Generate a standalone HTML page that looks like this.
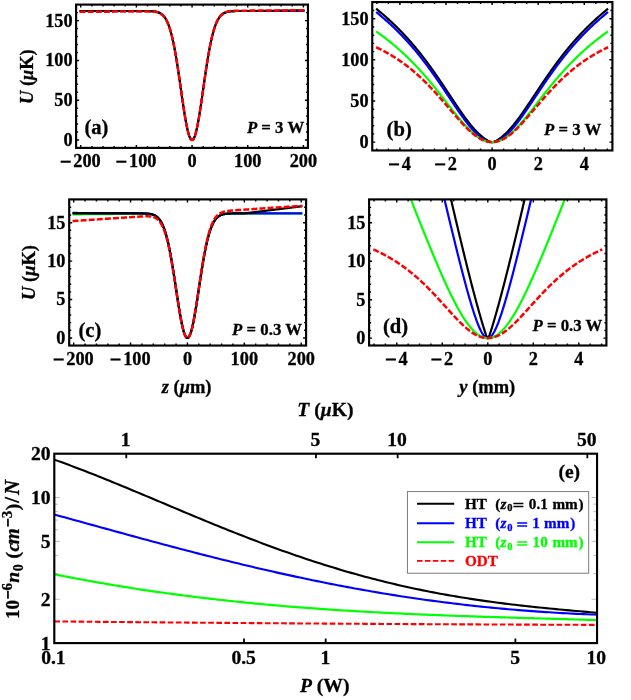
<!DOCTYPE html>
<html><head><meta charset="utf-8"><title>fig</title>
<style>html,body{margin:0;padding:0;background:#fff;}svg{display:block;}text{font-family:'Liberation Serif', serif;font-weight:bold;fill:#000;stroke:#000;stroke-width:0.3px;}</style>
</head><body>
<svg width="631" height="700" viewBox="0 0 631 700" style="will-change:transform">
<rect width="631" height="700" fill="#fff"/>
<clipPath id="ca"><rect x="76.10" y="4.60" width="231.85" height="143.30"/></clipPath>
<g clip-path="url(#ca)" fill="none" stroke-linejoin="round">
<path d="M79.59,11.05 L80.14,11.05 L80.70,11.05 L81.26,11.05 L81.81,11.05 L82.37,11.05 L82.93,11.05 L83.48,11.05 L84.04,11.05 L84.60,11.05 L85.15,11.05 L85.71,11.05 L86.27,11.05 L86.82,11.05 L87.38,11.05 L87.94,11.05 L88.49,11.05 L89.05,11.05 L89.61,11.05 L90.16,11.05 L90.72,11.05 L91.28,11.05 L91.84,11.05 L92.39,11.05 L92.95,11.05 L93.51,11.05 L94.06,11.05 L94.62,11.05 L95.18,11.05 L95.73,11.05 L96.29,11.05 L96.85,11.05 L97.40,11.05 L97.96,11.05 L98.52,11.05 L99.07,11.05 L99.63,11.05 L100.19,11.05 L100.74,11.05 L101.30,11.05 L101.86,11.05 L102.41,11.05 L102.97,11.05 L103.53,11.05 L104.08,11.05 L104.64,11.05 L105.20,11.05 L105.75,11.05 L106.31,11.05 L106.87,11.05 L107.42,11.05 L107.98,11.05 L108.54,11.05 L109.09,11.05 L109.65,11.05 L110.21,11.05 L110.76,11.05 L111.32,11.05 L111.88,11.05 L112.43,11.05 L112.99,11.05 L113.55,11.05 L114.11,11.05 L114.66,11.05 L115.22,11.05 L115.78,11.05 L116.33,11.05 L116.89,11.05 L117.45,11.05 L118.00,11.05 L118.56,11.05 L119.12,11.05 L119.67,11.05 L120.23,11.05 L120.79,11.05 L121.34,11.05 L121.90,11.05 L122.46,11.05 L123.01,11.05 L123.57,11.05 L124.13,11.05 L124.68,11.05 L125.24,11.05 L125.80,11.05 L126.35,11.05 L126.91,11.05 L127.47,11.05 L128.02,11.05 L128.58,11.05 L129.14,11.05 L129.69,11.05 L130.25,11.05 L130.81,11.05 L131.36,11.05 L131.92,11.05 L132.48,11.05 L133.03,11.05 L133.59,11.05 L134.15,11.05 L134.70,11.05 L135.26,11.05 L135.82,11.05 L136.38,11.05 L136.93,11.05 L137.49,11.05 L138.05,11.05 L138.60,11.05 L139.16,11.05 L139.72,11.05 L140.27,11.05 L140.83,11.05 L141.39,11.05 L141.94,11.05 L142.50,11.05 L143.06,11.06 L143.61,11.06 L144.17,11.06 L144.73,11.06 L145.28,11.07 L145.84,11.07 L146.40,11.08 L146.95,11.08 L147.51,11.09 L148.07,11.10 L148.62,11.11 L149.18,11.13 L149.74,11.14 L150.29,11.16 L150.85,11.19 L151.41,11.21 L151.96,11.25 L152.52,11.28 L153.08,11.33 L153.63,11.38 L154.19,11.45 L154.75,11.52 L155.30,11.60 L155.86,11.70 L156.42,11.82 L156.97,11.95 L157.53,12.10 L158.09,12.28 L158.65,12.48 L159.20,12.71 L159.76,12.97 L160.32,13.27 L160.87,13.61 L161.43,13.99 L161.99,14.42 L162.54,14.90 L163.10,15.44 L163.66,16.04 L164.21,16.71 L164.77,17.46 L165.33,18.29 L165.88,19.20 L166.44,20.20 L167.00,21.31 L167.55,22.51 L168.11,23.83 L168.67,25.27 L169.22,26.82 L169.78,28.50 L170.34,30.31 L170.89,32.26 L171.45,34.34 L172.01,36.57 L172.56,38.94 L173.12,41.45 L173.68,44.10 L174.23,46.90 L174.79,49.84 L175.35,52.91 L175.90,56.12 L176.46,59.45 L177.02,62.89 L177.57,66.44 L178.13,70.09 L178.69,73.82 L179.24,77.61 L179.80,81.47 L180.36,85.35 L180.92,89.26 L181.47,93.17 L182.03,97.06 L182.59,100.90 L183.14,104.69 L183.70,108.39 L184.26,111.98 L184.81,115.44 L185.37,118.76 L185.93,121.90 L186.48,124.85 L187.04,127.58 L187.60,130.09 L188.15,132.34 L188.71,134.33 L189.27,136.03 L189.82,137.45 L190.38,138.56 L190.94,139.36 L191.49,139.84 L192.05,140.00 L192.61,139.84 L193.16,139.36 L193.72,138.56 L194.28,137.45 L194.83,136.03 L195.39,134.33 L195.95,132.34 L196.50,130.09 L197.06,127.58 L197.62,124.85 L198.17,121.90 L198.73,118.76 L199.29,115.44 L199.84,111.98 L200.40,108.39 L200.96,104.69 L201.51,100.90 L202.07,97.06 L202.63,93.17 L203.19,89.26 L203.74,85.35 L204.30,81.47 L204.86,77.61 L205.41,73.82 L205.97,70.09 L206.53,66.44 L207.08,62.89 L207.64,59.45 L208.20,56.12 L208.75,52.91 L209.31,49.84 L209.87,46.90 L210.42,44.10 L210.98,41.45 L211.54,38.94 L212.09,36.57 L212.65,34.34 L213.21,32.26 L213.76,30.31 L214.32,28.50 L214.88,26.82 L215.43,25.27 L215.99,23.83 L216.55,22.51 L217.10,21.31 L217.66,20.20 L218.22,19.20 L218.77,18.29 L219.33,17.46 L219.89,16.71 L220.44,16.04 L221.00,15.44 L221.56,14.90 L222.11,14.42 L222.67,13.99 L223.23,13.61 L223.78,13.27 L224.34,12.97 L224.90,12.71 L225.46,12.48 L226.01,12.28 L226.57,12.10 L227.13,11.95 L227.68,11.82 L228.24,11.70 L228.80,11.60 L229.35,11.52 L229.91,11.45 L230.47,11.38 L231.02,11.33 L231.58,11.28 L232.14,11.25 L232.69,11.21 L233.25,11.19 L233.81,11.16 L234.36,11.14 L234.92,11.13 L235.48,11.11 L236.03,11.10 L236.59,11.09 L237.15,11.08 L237.70,11.08 L238.26,11.07 L238.82,11.07 L239.37,11.06 L239.93,11.06 L240.49,11.06 L241.04,11.06 L241.60,11.05 L242.16,11.05 L242.71,11.05 L243.27,11.05 L243.83,11.05 L244.38,11.05 L244.94,11.05 L245.50,11.05 L246.05,11.05 L246.61,11.05 L247.17,11.05 L247.73,11.05 L248.28,11.05 L248.84,11.05 L249.40,11.05 L249.95,11.05 L250.51,11.05 L251.07,11.05 L251.62,11.05 L252.18,11.05 L252.74,11.05 L253.29,11.05 L253.85,11.05 L254.41,11.05 L254.96,11.05 L255.52,11.05 L256.08,11.05 L256.63,11.05 L257.19,11.05 L257.75,11.05 L258.30,11.05 L258.86,11.05 L259.42,11.05 L259.97,11.05 L260.53,11.05 L261.09,11.05 L261.64,11.05 L262.20,11.05 L262.76,11.05 L263.31,11.05 L263.87,11.05 L264.43,11.05 L264.98,11.05 L265.54,11.05 L266.10,11.05 L266.65,11.05 L267.21,11.05 L267.77,11.05 L268.32,11.05 L268.88,11.05 L269.44,11.05 L270.00,11.05 L270.55,11.05 L271.11,11.05 L271.67,11.05 L272.22,11.05 L272.78,11.05 L273.34,11.05 L273.89,11.05 L274.45,11.05 L275.01,11.05 L275.56,11.05 L276.12,11.05 L276.68,11.05 L277.23,11.05 L277.79,11.05 L278.35,11.05 L278.90,11.05 L279.46,11.05 L280.02,11.05 L280.57,11.05 L281.13,11.05 L281.69,11.05 L282.24,11.05 L282.80,11.05 L283.36,11.05 L283.91,11.05 L284.47,11.05 L285.03,11.05 L285.58,11.05 L286.14,11.05 L286.70,11.05 L287.25,11.05 L287.81,11.05 L288.37,11.05 L288.92,11.05 L289.48,11.05 L290.04,11.05 L290.59,11.05 L291.15,11.05 L291.71,11.05 L292.26,11.05 L292.82,11.05 L293.38,11.05 L293.94,11.05 L294.49,11.05 L295.05,11.05 L295.61,11.05 L296.16,11.05 L296.72,11.05 L297.28,11.05 L297.83,11.05 L298.39,11.05 L298.95,11.05 L299.50,11.05 L300.06,11.05 L300.62,11.05 L301.17,11.05 L301.73,11.05 L302.29,11.05 L302.84,11.05 L303.40,11.05 L303.96,11.05 L304.51,11.05" stroke="#00ff00" stroke-width="2"/>
<path d="M79.59,11.05 L80.14,11.05 L80.70,11.05 L81.26,11.05 L81.81,11.05 L82.37,11.05 L82.93,11.05 L83.48,11.05 L84.04,11.05 L84.60,11.05 L85.15,11.05 L85.71,11.05 L86.27,11.05 L86.82,11.05 L87.38,11.05 L87.94,11.05 L88.49,11.05 L89.05,11.05 L89.61,11.05 L90.16,11.05 L90.72,11.05 L91.28,11.05 L91.84,11.05 L92.39,11.05 L92.95,11.05 L93.51,11.05 L94.06,11.05 L94.62,11.05 L95.18,11.05 L95.73,11.05 L96.29,11.05 L96.85,11.05 L97.40,11.05 L97.96,11.05 L98.52,11.05 L99.07,11.05 L99.63,11.05 L100.19,11.05 L100.74,11.05 L101.30,11.05 L101.86,11.05 L102.41,11.05 L102.97,11.05 L103.53,11.05 L104.08,11.05 L104.64,11.05 L105.20,11.05 L105.75,11.05 L106.31,11.05 L106.87,11.05 L107.42,11.05 L107.98,11.05 L108.54,11.05 L109.09,11.05 L109.65,11.05 L110.21,11.05 L110.76,11.05 L111.32,11.05 L111.88,11.05 L112.43,11.05 L112.99,11.05 L113.55,11.05 L114.11,11.05 L114.66,11.05 L115.22,11.05 L115.78,11.05 L116.33,11.05 L116.89,11.05 L117.45,11.05 L118.00,11.05 L118.56,11.05 L119.12,11.05 L119.67,11.05 L120.23,11.05 L120.79,11.05 L121.34,11.05 L121.90,11.05 L122.46,11.05 L123.01,11.05 L123.57,11.05 L124.13,11.05 L124.68,11.05 L125.24,11.05 L125.80,11.05 L126.35,11.05 L126.91,11.05 L127.47,11.05 L128.02,11.05 L128.58,11.05 L129.14,11.05 L129.69,11.05 L130.25,11.05 L130.81,11.05 L131.36,11.05 L131.92,11.05 L132.48,11.05 L133.03,11.05 L133.59,11.05 L134.15,11.05 L134.70,11.05 L135.26,11.05 L135.82,11.05 L136.38,11.05 L136.93,11.05 L137.49,11.05 L138.05,11.05 L138.60,11.05 L139.16,11.05 L139.72,11.05 L140.27,11.05 L140.83,11.05 L141.39,11.05 L141.94,11.05 L142.50,11.05 L143.06,11.06 L143.61,11.06 L144.17,11.06 L144.73,11.06 L145.28,11.07 L145.84,11.07 L146.40,11.08 L146.95,11.08 L147.51,11.09 L148.07,11.10 L148.62,11.11 L149.18,11.13 L149.74,11.14 L150.29,11.16 L150.85,11.19 L151.41,11.21 L151.96,11.25 L152.52,11.28 L153.08,11.33 L153.63,11.38 L154.19,11.45 L154.75,11.52 L155.30,11.60 L155.86,11.70 L156.42,11.82 L156.97,11.95 L157.53,12.10 L158.09,12.28 L158.65,12.48 L159.20,12.71 L159.76,12.97 L160.32,13.27 L160.87,13.61 L161.43,13.99 L161.99,14.42 L162.54,14.90 L163.10,15.44 L163.66,16.04 L164.21,16.71 L164.77,17.46 L165.33,18.29 L165.88,19.20 L166.44,20.20 L167.00,21.31 L167.55,22.51 L168.11,23.83 L168.67,25.27 L169.22,26.82 L169.78,28.50 L170.34,30.31 L170.89,32.26 L171.45,34.34 L172.01,36.57 L172.56,38.94 L173.12,41.45 L173.68,44.10 L174.23,46.90 L174.79,49.84 L175.35,52.91 L175.90,56.12 L176.46,59.45 L177.02,62.89 L177.57,66.44 L178.13,70.09 L178.69,73.82 L179.24,77.61 L179.80,81.47 L180.36,85.35 L180.92,89.26 L181.47,93.17 L182.03,97.06 L182.59,100.90 L183.14,104.69 L183.70,108.39 L184.26,111.98 L184.81,115.44 L185.37,118.76 L185.93,121.90 L186.48,124.85 L187.04,127.58 L187.60,130.09 L188.15,132.34 L188.71,134.33 L189.27,136.03 L189.82,137.45 L190.38,138.56 L190.94,139.36 L191.49,139.84 L192.05,140.00 L192.61,139.84 L193.16,139.36 L193.72,138.56 L194.28,137.45 L194.83,136.03 L195.39,134.33 L195.95,132.34 L196.50,130.09 L197.06,127.58 L197.62,124.85 L198.17,121.90 L198.73,118.76 L199.29,115.44 L199.84,111.98 L200.40,108.39 L200.96,104.69 L201.51,100.90 L202.07,97.06 L202.63,93.17 L203.19,89.26 L203.74,85.35 L204.30,81.47 L204.86,77.61 L205.41,73.82 L205.97,70.09 L206.53,66.44 L207.08,62.89 L207.64,59.45 L208.20,56.12 L208.75,52.91 L209.31,49.84 L209.87,46.90 L210.42,44.10 L210.98,41.45 L211.54,38.94 L212.09,36.57 L212.65,34.34 L213.21,32.26 L213.76,30.31 L214.32,28.50 L214.88,26.82 L215.43,25.27 L215.99,23.83 L216.55,22.51 L217.10,21.31 L217.66,20.20 L218.22,19.20 L218.77,18.29 L219.33,17.46 L219.89,16.71 L220.44,16.04 L221.00,15.44 L221.56,14.90 L222.11,14.42 L222.67,13.99 L223.23,13.61 L223.78,13.27 L224.34,12.97 L224.90,12.71 L225.46,12.48 L226.01,12.28 L226.57,12.10 L227.13,11.95 L227.68,11.82 L228.24,11.70 L228.80,11.60 L229.35,11.52 L229.91,11.45 L230.47,11.38 L231.02,11.33 L231.58,11.28 L232.14,11.25 L232.69,11.21 L233.25,11.19 L233.81,11.16 L234.36,11.14 L234.92,11.13 L235.48,11.11 L236.03,11.10 L236.59,11.09 L237.15,11.08 L237.70,11.08 L238.26,11.07 L238.82,11.07 L239.37,11.06 L239.93,11.06 L240.49,11.06 L241.04,11.06 L241.60,11.05 L242.16,11.05 L242.71,11.05 L243.27,11.05 L243.83,11.05 L244.38,11.05 L244.94,11.05 L245.50,11.05 L246.05,11.05 L246.61,11.05 L247.17,11.05 L247.73,11.05 L248.28,11.05 L248.84,11.05 L249.40,11.05 L249.95,11.05 L250.51,11.05 L251.07,11.05 L251.62,11.05 L252.18,11.05 L252.74,11.05 L253.29,11.05 L253.85,11.05 L254.41,11.05 L254.96,11.05 L255.52,11.05 L256.08,11.05 L256.63,11.05 L257.19,11.05 L257.75,11.05 L258.30,11.05 L258.86,11.05 L259.42,11.05 L259.97,11.05 L260.53,11.05 L261.09,11.05 L261.64,11.05 L262.20,11.05 L262.76,11.05 L263.31,11.05 L263.87,11.05 L264.43,11.05 L264.98,11.05 L265.54,11.05 L266.10,11.05 L266.65,11.05 L267.21,11.05 L267.77,11.05 L268.32,11.05 L268.88,11.05 L269.44,11.05 L270.00,11.05 L270.55,11.05 L271.11,11.05 L271.67,11.05 L272.22,11.05 L272.78,11.05 L273.34,11.05 L273.89,11.05 L274.45,11.05 L275.01,11.05 L275.56,11.05 L276.12,11.05 L276.68,11.05 L277.23,11.05 L277.79,11.05 L278.35,11.05 L278.90,11.05 L279.46,11.05 L280.02,11.05 L280.57,11.05 L281.13,11.05 L281.69,11.05 L282.24,11.05 L282.80,11.05 L283.36,11.05 L283.91,11.05 L284.47,11.05 L285.03,11.05 L285.58,11.05 L286.14,11.05 L286.70,11.05 L287.25,11.05 L287.81,11.05 L288.37,11.05 L288.92,11.05 L289.48,11.05 L290.04,11.05 L290.59,11.05 L291.15,11.05 L291.71,11.05 L292.26,11.05 L292.82,11.05 L293.38,11.05 L293.94,11.05 L294.49,11.05 L295.05,11.05 L295.61,11.05 L296.16,11.05 L296.72,11.05 L297.28,11.05 L297.83,11.05 L298.39,11.05 L298.95,11.05 L299.50,11.05 L300.06,11.05 L300.62,11.05 L301.17,11.05 L301.73,11.05 L302.29,11.05 L302.84,11.05 L303.40,11.05 L303.96,11.05 L304.51,11.05" stroke="#0000ff" stroke-width="2"/>
<path d="M79.59,11.05 L80.14,11.05 L80.70,11.05 L81.26,11.05 L81.81,11.05 L82.37,11.05 L82.93,11.05 L83.48,11.05 L84.04,11.05 L84.60,11.05 L85.15,11.05 L85.71,11.05 L86.27,11.05 L86.82,11.05 L87.38,11.05 L87.94,11.05 L88.49,11.05 L89.05,11.05 L89.61,11.05 L90.16,11.05 L90.72,11.05 L91.28,11.05 L91.84,11.05 L92.39,11.05 L92.95,11.05 L93.51,11.05 L94.06,11.05 L94.62,11.05 L95.18,11.05 L95.73,11.05 L96.29,11.05 L96.85,11.05 L97.40,11.05 L97.96,11.05 L98.52,11.05 L99.07,11.05 L99.63,11.05 L100.19,11.05 L100.74,11.05 L101.30,11.05 L101.86,11.05 L102.41,11.05 L102.97,11.05 L103.53,11.05 L104.08,11.05 L104.64,11.05 L105.20,11.05 L105.75,11.05 L106.31,11.05 L106.87,11.05 L107.42,11.05 L107.98,11.05 L108.54,11.05 L109.09,11.05 L109.65,11.05 L110.21,11.05 L110.76,11.05 L111.32,11.05 L111.88,11.05 L112.43,11.05 L112.99,11.05 L113.55,11.05 L114.11,11.05 L114.66,11.05 L115.22,11.05 L115.78,11.05 L116.33,11.05 L116.89,11.05 L117.45,11.05 L118.00,11.05 L118.56,11.05 L119.12,11.05 L119.67,11.05 L120.23,11.05 L120.79,11.05 L121.34,11.05 L121.90,11.05 L122.46,11.05 L123.01,11.05 L123.57,11.05 L124.13,11.05 L124.68,11.05 L125.24,11.05 L125.80,11.05 L126.35,11.05 L126.91,11.05 L127.47,11.05 L128.02,11.05 L128.58,11.05 L129.14,11.05 L129.69,11.05 L130.25,11.05 L130.81,11.05 L131.36,11.05 L131.92,11.05 L132.48,11.05 L133.03,11.05 L133.59,11.05 L134.15,11.05 L134.70,11.05 L135.26,11.05 L135.82,11.05 L136.38,11.05 L136.93,11.05 L137.49,11.05 L138.05,11.05 L138.60,11.05 L139.16,11.05 L139.72,11.05 L140.27,11.05 L140.83,11.05 L141.39,11.05 L141.94,11.05 L142.50,11.05 L143.06,11.06 L143.61,11.06 L144.17,11.06 L144.73,11.06 L145.28,11.07 L145.84,11.07 L146.40,11.08 L146.95,11.08 L147.51,11.09 L148.07,11.10 L148.62,11.11 L149.18,11.13 L149.74,11.14 L150.29,11.16 L150.85,11.19 L151.41,11.21 L151.96,11.25 L152.52,11.28 L153.08,11.33 L153.63,11.38 L154.19,11.45 L154.75,11.52 L155.30,11.60 L155.86,11.70 L156.42,11.82 L156.97,11.95 L157.53,12.10 L158.09,12.28 L158.65,12.48 L159.20,12.71 L159.76,12.97 L160.32,13.27 L160.87,13.61 L161.43,13.99 L161.99,14.42 L162.54,14.90 L163.10,15.44 L163.66,16.04 L164.21,16.71 L164.77,17.46 L165.33,18.29 L165.88,19.20 L166.44,20.20 L167.00,21.31 L167.55,22.51 L168.11,23.83 L168.67,25.27 L169.22,26.82 L169.78,28.50 L170.34,30.31 L170.89,32.26 L171.45,34.34 L172.01,36.57 L172.56,38.94 L173.12,41.45 L173.68,44.10 L174.23,46.90 L174.79,49.84 L175.35,52.91 L175.90,56.12 L176.46,59.45 L177.02,62.89 L177.57,66.44 L178.13,70.09 L178.69,73.82 L179.24,77.61 L179.80,81.47 L180.36,85.35 L180.92,89.26 L181.47,93.17 L182.03,97.06 L182.59,100.90 L183.14,104.69 L183.70,108.39 L184.26,111.98 L184.81,115.44 L185.37,118.76 L185.93,121.90 L186.48,124.85 L187.04,127.58 L187.60,130.09 L188.15,132.34 L188.71,134.33 L189.27,136.03 L189.82,137.45 L190.38,138.56 L190.94,139.36 L191.49,139.84 L192.05,140.00 L192.61,139.84 L193.16,139.36 L193.72,138.56 L194.28,137.45 L194.83,136.03 L195.39,134.33 L195.95,132.34 L196.50,130.09 L197.06,127.58 L197.62,124.85 L198.17,121.90 L198.73,118.76 L199.29,115.44 L199.84,111.98 L200.40,108.39 L200.96,104.69 L201.51,100.90 L202.07,97.06 L202.63,93.17 L203.19,89.26 L203.74,85.35 L204.30,81.47 L204.86,77.61 L205.41,73.82 L205.97,70.09 L206.53,66.44 L207.08,62.89 L207.64,59.45 L208.20,56.12 L208.75,52.91 L209.31,49.84 L209.87,46.90 L210.42,44.10 L210.98,41.45 L211.54,38.94 L212.09,36.57 L212.65,34.34 L213.21,32.26 L213.76,30.31 L214.32,28.50 L214.88,26.82 L215.43,25.27 L215.99,23.83 L216.55,22.51 L217.10,21.31 L217.66,20.20 L218.22,19.20 L218.77,18.29 L219.33,17.46 L219.89,16.71 L220.44,16.04 L221.00,15.44 L221.56,14.90 L222.11,14.42 L222.67,13.99 L223.23,13.61 L223.78,13.27 L224.34,12.97 L224.90,12.71 L225.46,12.48 L226.01,12.28 L226.57,12.10 L227.13,11.95 L227.68,11.82 L228.24,11.70 L228.80,11.60 L229.35,11.52 L229.91,11.45 L230.47,11.38 L231.02,11.33 L231.58,11.28 L232.14,11.25 L232.69,11.21 L233.25,11.19 L233.81,11.16 L234.36,11.14 L234.92,11.13 L235.48,11.11 L236.03,11.10 L236.59,11.09 L237.15,11.08 L237.70,11.08 L238.26,11.07 L238.82,11.07 L239.37,11.06 L239.93,11.06 L240.49,11.06 L241.04,11.06 L241.60,11.05 L242.16,11.05 L242.71,11.05 L243.27,11.05 L243.83,11.05 L244.38,11.05 L244.94,11.05 L245.50,11.05 L246.05,11.05 L246.61,11.05 L247.17,11.05 L247.73,11.05 L248.28,11.04 L248.84,11.03 L249.40,11.02 L249.95,11.02 L250.51,11.01 L251.07,11.00 L251.62,10.99 L252.18,10.98 L252.74,10.98 L253.29,10.97 L253.85,10.96 L254.41,10.95 L254.96,10.94 L255.52,10.94 L256.08,10.93 L256.63,10.92 L257.19,10.91 L257.75,10.90 L258.30,10.90 L258.86,10.89 L259.42,10.88 L259.97,10.87 L260.53,10.86 L261.09,10.86 L261.64,10.85 L262.20,10.84 L262.76,10.83 L263.31,10.83 L263.87,10.82 L264.43,10.81 L264.98,10.80 L265.54,10.79 L266.10,10.79 L266.65,10.78 L267.21,10.77 L267.77,10.76 L268.32,10.75 L268.88,10.75 L269.44,10.74 L270.00,10.73 L270.55,10.72 L271.11,10.71 L271.67,10.71 L272.22,10.70 L272.78,10.69 L273.34,10.68 L273.89,10.67 L274.45,10.67 L275.01,10.66 L275.56,10.65 L276.12,10.64 L276.68,10.63 L277.23,10.63 L277.79,10.62 L278.35,10.61 L278.90,10.60 L279.46,10.59 L280.02,10.59 L280.57,10.58 L281.13,10.57 L281.69,10.56 L282.24,10.55 L282.80,10.55 L283.36,10.54 L283.91,10.53 L284.47,10.52 L285.03,10.51 L285.58,10.51 L286.14,10.50 L286.70,10.49 L287.25,10.48 L287.81,10.47 L288.37,10.47 L288.92,10.46 L289.48,10.45 L290.04,10.44 L290.59,10.44 L291.15,10.43 L291.71,10.42 L292.26,10.41 L292.82,10.40 L293.38,10.40 L293.94,10.39 L294.49,10.38 L295.05,10.37 L295.61,10.36 L296.16,10.36 L296.72,10.35 L297.28,10.34 L297.83,10.33 L298.39,10.32 L298.95,10.32 L299.50,10.31 L300.06,10.30 L300.62,10.29 L301.17,10.28 L301.73,10.28 L302.29,10.27 L302.84,10.26 L303.40,10.25 L303.96,10.24 L304.51,10.24" stroke="#000" stroke-width="2"/>
<path d="M79.59,11.84 L80.14,11.83 L80.70,11.83 L81.26,11.82 L81.81,11.82 L82.37,11.82 L82.93,11.81 L83.48,11.81 L84.04,11.80 L84.60,11.80 L85.15,11.80 L85.71,11.79 L86.27,11.79 L86.82,11.79 L87.38,11.78 L87.94,11.78 L88.49,11.77 L89.05,11.77 L89.61,11.77 L90.16,11.76 L90.72,11.76 L91.28,11.75 L91.84,11.75 L92.39,11.75 L92.95,11.74 L93.51,11.74 L94.06,11.73 L94.62,11.73 L95.18,11.73 L95.73,11.72 L96.29,11.72 L96.85,11.71 L97.40,11.71 L97.96,11.71 L98.52,11.70 L99.07,11.70 L99.63,11.70 L100.19,11.69 L100.74,11.69 L101.30,11.68 L101.86,11.68 L102.41,11.68 L102.97,11.67 L103.53,11.67 L104.08,11.66 L104.64,11.66 L105.20,11.66 L105.75,11.65 L106.31,11.65 L106.87,11.64 L107.42,11.64 L107.98,11.64 L108.54,11.63 L109.09,11.63 L109.65,11.63 L110.21,11.62 L110.76,11.62 L111.32,11.61 L111.88,11.61 L112.43,11.61 L112.99,11.60 L113.55,11.60 L114.11,11.59 L114.66,11.59 L115.22,11.59 L115.78,11.58 L116.33,11.58 L116.89,11.57 L117.45,11.57 L118.00,11.57 L118.56,11.56 L119.12,11.56 L119.67,11.56 L120.23,11.55 L120.79,11.55 L121.34,11.54 L121.90,11.54 L122.46,11.54 L123.01,11.53 L123.57,11.53 L124.13,11.52 L124.68,11.52 L125.24,11.52 L125.80,11.51 L126.35,11.51 L126.91,11.50 L127.47,11.50 L128.02,11.50 L128.58,11.49 L129.14,11.49 L129.69,11.48 L130.25,11.48 L130.81,11.48 L131.36,11.47 L131.92,11.47 L132.48,11.47 L133.03,11.46 L133.59,11.46 L134.15,11.45 L134.70,11.45 L135.26,11.45 L135.82,11.44 L136.38,11.44 L136.93,11.43 L137.49,11.43 L138.05,11.43 L138.60,11.42 L139.16,11.42 L139.72,11.42 L140.27,11.41 L140.83,11.41 L141.39,11.41 L141.94,11.40 L142.50,11.40 L143.06,11.40 L143.61,11.40 L144.17,11.40 L144.73,11.39 L145.28,11.39 L145.84,11.40 L146.40,11.40 L146.95,11.40 L147.51,11.40 L148.07,11.41 L148.62,11.42 L149.18,11.43 L149.74,11.44 L150.29,11.45 L150.85,11.47 L151.41,11.50 L151.96,11.53 L152.52,11.56 L153.08,11.60 L153.63,11.65 L154.19,11.71 L154.75,11.78 L155.30,11.86 L155.86,11.96 L156.42,12.07 L156.97,12.20 L157.53,12.35 L158.09,12.52 L158.65,12.71 L159.20,12.94 L159.76,13.20 L160.32,13.49 L160.87,13.82 L161.43,14.20 L161.99,14.63 L162.54,15.11 L163.10,15.64 L163.66,16.24 L164.21,16.91 L164.77,17.65 L165.33,18.47 L165.88,19.38 L166.44,20.38 L167.00,21.48 L167.55,22.69 L168.11,24.00 L168.67,25.43 L169.22,26.98 L169.78,28.66 L170.34,30.46 L170.89,32.41 L171.45,34.49 L172.01,36.71 L172.56,39.07 L173.12,41.58 L173.68,44.23 L174.23,47.03 L174.79,49.96 L175.35,53.03 L175.90,56.23 L176.46,59.55 L177.02,62.99 L177.57,66.54 L178.13,70.18 L178.69,73.91 L179.24,77.70 L179.80,81.55 L180.36,85.44 L180.92,89.34 L181.47,93.24 L182.03,97.13 L182.59,100.97 L183.14,104.75 L183.70,108.44 L184.26,112.03 L184.81,115.49 L185.37,118.80 L185.93,121.94 L186.48,124.89 L187.04,127.62 L187.60,130.12 L188.15,132.37 L188.71,134.35 L189.27,136.05 L189.82,137.46 L190.38,138.57 L190.94,139.36 L191.49,139.84 L192.05,140.00 L192.61,139.84 L193.16,139.35 L193.72,138.55 L194.28,137.43 L194.83,136.01 L195.39,134.30 L195.95,132.31 L196.50,130.05 L197.06,127.55 L197.62,124.81 L198.17,121.86 L198.73,118.71 L199.29,115.39 L199.84,111.92 L200.40,108.33 L200.96,104.62 L201.51,100.84 L202.07,96.99 L202.63,93.09 L203.19,89.18 L203.74,85.27 L204.30,81.38 L204.86,77.52 L205.41,73.72 L205.97,69.99 L206.53,66.34 L207.08,62.78 L207.64,59.34 L208.20,56.00 L208.75,52.80 L209.31,49.72 L209.87,46.78 L210.42,43.97 L210.98,41.32 L211.54,38.80 L212.09,36.43 L212.65,34.20 L213.21,32.11 L213.76,30.16 L214.32,28.34 L214.88,26.66 L215.43,25.10 L215.99,23.66 L216.55,22.34 L217.10,21.13 L217.66,20.02 L218.22,19.02 L218.77,18.10 L219.33,17.27 L219.89,16.52 L220.44,15.84 L221.00,15.24 L221.56,14.69 L222.11,14.21 L222.67,13.77 L223.23,13.39 L223.78,13.05 L224.34,12.75 L224.90,12.48 L225.46,12.25 L226.01,12.04 L226.57,11.86 L227.13,11.71 L227.68,11.57 L228.24,11.45 L228.80,11.35 L229.35,11.26 L229.91,11.18 L230.47,11.11 L231.02,11.06 L231.58,11.01 L232.14,10.96 L232.69,10.93 L233.25,10.90 L233.81,10.87 L234.36,10.85 L234.92,10.83 L235.48,10.81 L236.03,10.79 L236.59,10.78 L237.15,10.77 L237.70,10.76 L238.26,10.75 L238.82,10.74 L239.37,10.73 L239.93,10.73 L240.49,10.72 L241.04,10.71 L241.60,10.71 L242.16,10.70 L242.71,10.70 L243.27,10.69 L243.83,10.69 L244.38,10.68 L244.94,10.68 L245.50,10.67 L246.05,10.67 L246.61,10.67 L247.17,10.66 L247.73,10.66 L248.28,10.65 L248.84,10.65 L249.40,10.65 L249.95,10.64 L250.51,10.64 L251.07,10.63 L251.62,10.63 L252.18,10.63 L252.74,10.62 L253.29,10.62 L253.85,10.62 L254.41,10.61 L254.96,10.61 L255.52,10.60 L256.08,10.60 L256.63,10.60 L257.19,10.59 L257.75,10.59 L258.30,10.58 L258.86,10.58 L259.42,10.58 L259.97,10.57 L260.53,10.57 L261.09,10.56 L261.64,10.56 L262.20,10.56 L262.76,10.55 L263.31,10.55 L263.87,10.54 L264.43,10.54 L264.98,10.54 L265.54,10.53 L266.10,10.53 L266.65,10.53 L267.21,10.52 L267.77,10.52 L268.32,10.51 L268.88,10.51 L269.44,10.51 L270.00,10.50 L270.55,10.50 L271.11,10.49 L271.67,10.49 L272.22,10.49 L272.78,10.48 L273.34,10.48 L273.89,10.47 L274.45,10.47 L275.01,10.47 L275.56,10.46 L276.12,10.46 L276.68,10.46 L277.23,10.45 L277.79,10.45 L278.35,10.44 L278.90,10.44 L279.46,10.44 L280.02,10.43 L280.57,10.43 L281.13,10.42 L281.69,10.42 L282.24,10.42 L282.80,10.41 L283.36,10.41 L283.91,10.40 L284.47,10.40 L285.03,10.40 L285.58,10.39 L286.14,10.39 L286.70,10.38 L287.25,10.38 L287.81,10.38 L288.37,10.37 L288.92,10.37 L289.48,10.37 L290.04,10.36 L290.59,10.36 L291.15,10.35 L291.71,10.35 L292.26,10.35 L292.82,10.34 L293.38,10.34 L293.94,10.33 L294.49,10.33 L295.05,10.33 L295.61,10.32 L296.16,10.32 L296.72,10.31 L297.28,10.31 L297.83,10.31 L298.39,10.30 L298.95,10.30 L299.50,10.30 L300.06,10.29 L300.62,10.29 L301.17,10.28 L301.73,10.28 L302.29,10.28 L302.84,10.27 L303.40,10.27 L303.96,10.26 L304.51,10.26" stroke="#ff0000" stroke-width="2.55" stroke-dasharray="6.0 2.1"/>
</g>
<path d="M80.70,147.90 v-3.00 M80.70,4.60 v3.00 M136.38,147.90 v-3.00 M136.38,4.60 v3.00 M192.05,147.90 v-3.00 M192.05,4.60 v3.00 M247.73,147.90 v-3.00 M247.73,4.60 v3.00 M303.40,147.90 v-3.00 M303.40,4.60 v3.00 M80.70,147.90 v-2.00 M80.70,4.60 v2.00 M91.84,147.90 v-2.00 M91.84,4.60 v2.00 M102.97,147.90 v-2.00 M102.97,4.60 v2.00 M114.11,147.90 v-2.00 M114.11,4.60 v2.00 M125.24,147.90 v-2.00 M125.24,4.60 v2.00 M136.38,147.90 v-2.00 M136.38,4.60 v2.00 M147.51,147.90 v-2.00 M147.51,4.60 v2.00 M158.65,147.90 v-2.00 M158.65,4.60 v2.00 M169.78,147.90 v-2.00 M169.78,4.60 v2.00 M180.92,147.90 v-2.00 M180.92,4.60 v2.00 M192.05,147.90 v-2.00 M192.05,4.60 v2.00 M203.19,147.90 v-2.00 M203.19,4.60 v2.00 M214.32,147.90 v-2.00 M214.32,4.60 v2.00 M225.46,147.90 v-2.00 M225.46,4.60 v2.00 M236.59,147.90 v-2.00 M236.59,4.60 v2.00 M247.73,147.90 v-2.00 M247.73,4.60 v2.00 M258.86,147.90 v-2.00 M258.86,4.60 v2.00 M270.00,147.90 v-2.00 M270.00,4.60 v2.00 M281.13,147.90 v-2.00 M281.13,4.60 v2.00 M292.26,147.90 v-2.00 M292.26,4.60 v2.00 M303.40,147.90 v-2.00 M303.40,4.60 v2.00 M76.10,140.00 h3.00 M307.95,140.00 h-3.00 M76.10,100.20 h3.00 M307.95,100.20 h-3.00 M76.10,60.40 h3.00 M307.95,60.40 h-3.00 M76.10,20.60 h3.00 M307.95,20.60 h-3.00 M76.10,140.00 h2.00 M307.95,140.00 h-2.00 M76.10,132.04 h2.00 M307.95,132.04 h-2.00 M76.10,124.08 h2.00 M307.95,124.08 h-2.00 M76.10,116.12 h2.00 M307.95,116.12 h-2.00 M76.10,108.16 h2.00 M307.95,108.16 h-2.00 M76.10,100.20 h2.00 M307.95,100.20 h-2.00 M76.10,92.24 h2.00 M307.95,92.24 h-2.00 M76.10,84.28 h2.00 M307.95,84.28 h-2.00 M76.10,76.32 h2.00 M307.95,76.32 h-2.00 M76.10,68.36 h2.00 M307.95,68.36 h-2.00 M76.10,60.40 h2.00 M307.95,60.40 h-2.00 M76.10,52.44 h2.00 M307.95,52.44 h-2.00 M76.10,44.48 h2.00 M307.95,44.48 h-2.00 M76.10,36.52 h2.00 M307.95,36.52 h-2.00 M76.10,28.56 h2.00 M307.95,28.56 h-2.00 M76.10,20.60 h2.00 M307.95,20.60 h-2.00 M76.10,12.64 h2.00 M307.95,12.64 h-2.00" stroke="#000" stroke-width="1.45" fill="none"/>
<rect x="76.10" y="4.60" width="231.85" height="143.30" fill="none" stroke="#000" stroke-width="2.15"/>
<rect x="60.63" y="160.65" width="10.10" height="2.10" fill="#000"/>
<text x="73.33" y="166.80" font-size="18.3">200</text>
<rect x="116.30" y="160.65" width="10.10" height="2.10" fill="#000"/>
<text x="129.00" y="166.80" font-size="18.3">100</text>
<text x="192.05" y="166.80" text-anchor="middle" font-size="18.3">0</text>
<text x="247.73" y="166.80" text-anchor="middle" font-size="18.3">100</text>
<text x="303.40" y="166.80" text-anchor="middle" font-size="18.3">200</text>
<text x="72.60" y="145.90" text-anchor="end" font-size="18.3">0</text>
<text x="72.60" y="106.10" text-anchor="end" font-size="18.3">50</text>
<text x="72.60" y="66.30" text-anchor="end" font-size="18.3">100</text>
<text x="72.60" y="26.50" text-anchor="end" font-size="18.3">150</text>
<clipPath id="cb"><rect x="372.25" y="2.05" width="240.15" height="148.40"/></clipPath>
<g clip-path="url(#cb)" fill="none" stroke-linejoin="round">
<path d="M376.16,8.71 L376.74,9.18 L377.32,9.65 L377.90,10.12 L378.48,10.60 L379.06,11.08 L379.64,11.56 L380.22,12.05 L380.80,12.53 L381.38,13.02 L381.96,13.52 L382.54,14.01 L383.11,14.51 L383.69,15.01 L384.27,15.52 L384.85,16.02 L385.43,16.53 L386.01,17.05 L386.59,17.56 L387.17,18.08 L387.75,18.60 L388.33,19.13 L388.91,19.66 L389.49,20.19 L390.07,20.72 L390.65,21.26 L391.23,21.80 L391.81,22.34 L392.39,22.89 L392.97,23.44 L393.55,24.00 L394.13,24.55 L394.71,25.11 L395.29,25.68 L395.87,26.24 L396.45,26.81 L397.03,27.39 L397.61,27.97 L398.19,28.55 L398.77,29.13 L399.35,29.72 L399.93,30.31 L400.51,30.91 L401.09,31.51 L401.67,32.11 L402.25,32.71 L402.83,33.32 L403.40,33.94 L403.98,34.56 L404.56,35.18 L405.14,35.80 L405.72,36.43 L406.30,37.06 L406.88,37.70 L407.46,38.34 L408.04,38.98 L408.62,39.63 L409.20,40.28 L409.78,40.94 L410.36,41.60 L410.94,42.27 L411.52,42.93 L412.10,43.61 L412.68,44.28 L413.26,44.96 L413.84,45.65 L414.42,46.33 L415.00,47.03 L415.58,47.72 L416.16,48.42 L416.74,49.13 L417.32,49.84 L417.90,50.55 L418.48,51.27 L419.06,51.99 L419.64,52.71 L420.22,53.44 L420.80,54.18 L421.38,54.92 L421.96,55.66 L422.54,56.40 L423.11,57.15 L423.69,57.91 L424.27,58.67 L424.85,59.43 L425.43,60.19 L426.01,60.96 L426.59,61.74 L427.17,62.52 L427.75,63.30 L428.33,64.08 L428.91,64.87 L429.49,65.67 L430.07,66.46 L430.65,67.26 L431.23,68.07 L431.81,68.88 L432.39,69.69 L432.97,70.50 L433.55,71.32 L434.13,72.14 L434.71,72.97 L435.29,73.80 L435.87,74.63 L436.45,75.46 L437.03,76.30 L437.61,77.14 L438.19,77.99 L438.77,78.83 L439.35,79.68 L439.93,80.53 L440.51,81.39 L441.09,82.24 L441.67,83.10 L442.25,83.96 L442.82,84.82 L443.40,85.69 L443.98,86.55 L444.56,87.42 L445.14,88.29 L445.72,89.16 L446.30,90.03 L446.88,90.91 L447.46,91.78 L448.04,92.65 L448.62,93.53 L449.20,94.40 L449.78,95.28 L450.36,96.15 L450.94,97.03 L451.52,97.90 L452.10,98.77 L452.68,99.65 L453.26,100.52 L453.84,101.39 L454.42,102.25 L455.00,103.12 L455.58,103.99 L456.16,104.85 L456.74,105.71 L457.32,106.57 L457.90,107.42 L458.48,108.27 L459.06,109.12 L459.64,109.96 L460.22,110.80 L460.80,111.63 L461.38,112.47 L461.96,113.29 L462.53,114.11 L463.11,114.93 L463.69,115.74 L464.27,116.54 L464.85,117.34 L465.43,118.13 L466.01,118.91 L466.59,119.68 L467.17,120.45 L467.75,121.21 L468.33,121.97 L468.91,122.71 L469.49,123.45 L470.07,124.17 L470.65,124.89 L471.23,125.60 L471.81,126.29 L472.39,126.98 L472.97,127.66 L473.55,128.32 L474.13,128.98 L474.71,129.62 L475.29,130.25 L475.87,130.87 L476.45,131.48 L477.03,132.07 L477.61,132.65 L478.19,133.22 L478.77,133.78 L479.35,134.32 L479.93,134.85 L480.51,135.36 L481.09,135.86 L481.67,136.35 L482.24,136.82 L482.82,137.28 L483.40,137.72 L483.98,138.14 L484.56,138.55 L485.14,138.95 L485.72,139.32 L486.30,139.69 L486.88,140.03 L487.46,140.36 L488.04,140.67 L488.62,140.96 L489.20,141.23 L489.78,141.49 L490.36,141.71 L490.94,141.91 L491.52,142.05 L492.10,142.10 L492.68,142.05 L493.26,141.91 L493.84,141.71 L494.42,141.49 L495.00,141.23 L495.58,140.96 L496.16,140.67 L496.74,140.36 L497.32,140.03 L497.90,139.69 L498.48,139.32 L499.06,138.95 L499.64,138.55 L500.22,138.14 L500.80,137.72 L501.38,137.28 L501.96,136.82 L502.53,136.35 L503.11,135.86 L503.69,135.36 L504.27,134.85 L504.85,134.32 L505.43,133.78 L506.01,133.22 L506.59,132.65 L507.17,132.07 L507.75,131.48 L508.33,130.87 L508.91,130.25 L509.49,129.62 L510.07,128.98 L510.65,128.32 L511.23,127.66 L511.81,126.98 L512.39,126.29 L512.97,125.60 L513.55,124.89 L514.13,124.17 L514.71,123.45 L515.29,122.71 L515.87,121.97 L516.45,121.21 L517.03,120.45 L517.61,119.68 L518.19,118.91 L518.77,118.13 L519.35,117.34 L519.93,116.54 L520.51,115.74 L521.09,114.93 L521.67,114.11 L522.24,113.29 L522.82,112.47 L523.40,111.63 L523.98,110.80 L524.56,109.96 L525.14,109.12 L525.72,108.27 L526.30,107.42 L526.88,106.57 L527.46,105.71 L528.04,104.85 L528.62,103.99 L529.20,103.12 L529.78,102.25 L530.36,101.39 L530.94,100.52 L531.52,99.65 L532.10,98.77 L532.68,97.90 L533.26,97.03 L533.84,96.15 L534.42,95.28 L535.00,94.40 L535.58,93.53 L536.16,92.65 L536.74,91.78 L537.32,90.91 L537.90,90.03 L538.48,89.16 L539.06,88.29 L539.64,87.42 L540.22,86.55 L540.80,85.69 L541.38,84.82 L541.95,83.96 L542.53,83.10 L543.11,82.24 L543.69,81.39 L544.27,80.53 L544.85,79.68 L545.43,78.83 L546.01,77.99 L546.59,77.14 L547.17,76.30 L547.75,75.46 L548.33,74.63 L548.91,73.80 L549.49,72.97 L550.07,72.14 L550.65,71.32 L551.23,70.50 L551.81,69.69 L552.39,68.88 L552.97,68.07 L553.55,67.26 L554.13,66.46 L554.71,65.67 L555.29,64.87 L555.87,64.08 L556.45,63.30 L557.03,62.52 L557.61,61.74 L558.19,60.96 L558.77,60.19 L559.35,59.43 L559.93,58.67 L560.51,57.91 L561.09,57.15 L561.66,56.40 L562.24,55.66 L562.82,54.92 L563.40,54.18 L563.98,53.44 L564.56,52.71 L565.14,51.99 L565.72,51.27 L566.30,50.55 L566.88,49.84 L567.46,49.13 L568.04,48.42 L568.62,47.72 L569.20,47.03 L569.78,46.33 L570.36,45.65 L570.94,44.96 L571.52,44.28 L572.10,43.61 L572.68,42.93 L573.26,42.27 L573.84,41.60 L574.42,40.94 L575.00,40.28 L575.58,39.63 L576.16,38.98 L576.74,38.34 L577.32,37.70 L577.90,37.06 L578.48,36.43 L579.06,35.80 L579.64,35.18 L580.22,34.56 L580.80,33.94 L581.37,33.32 L581.95,32.71 L582.53,32.11 L583.11,31.51 L583.69,30.91 L584.27,30.31 L584.85,29.72 L585.43,29.13 L586.01,28.55 L586.59,27.97 L587.17,27.39 L587.75,26.81 L588.33,26.24 L588.91,25.68 L589.49,25.11 L590.07,24.55 L590.65,24.00 L591.23,23.44 L591.81,22.89 L592.39,22.34 L592.97,21.80 L593.55,21.26 L594.13,20.72 L594.71,20.19 L595.29,19.66 L595.87,19.13 L596.45,18.60 L597.03,18.08 L597.61,17.56 L598.19,17.05 L598.77,16.53 L599.35,16.02 L599.93,15.52 L600.51,15.01 L601.09,14.51 L601.66,14.01 L602.24,13.52 L602.82,13.02 L603.40,12.53 L603.98,12.05 L604.56,11.56 L605.14,11.08 L605.72,10.60 L606.30,10.12 L606.88,9.65 L607.46,9.18 L608.04,8.71" stroke="#000" stroke-width="2.2"/>
<path d="M376.16,12.00 L376.74,12.47 L377.32,12.94 L377.90,13.41 L378.48,13.89 L379.06,14.36 L379.64,14.85 L380.22,15.33 L380.80,15.82 L381.38,16.31 L381.96,16.80 L382.54,17.29 L383.11,17.79 L383.69,18.29 L384.27,18.79 L384.85,19.30 L385.43,19.81 L386.01,20.32 L386.59,20.83 L387.17,21.35 L387.75,21.87 L388.33,22.40 L388.91,22.92 L389.49,23.45 L390.07,23.99 L390.65,24.52 L391.23,25.06 L391.81,25.61 L392.39,26.15 L392.97,26.70 L393.55,27.25 L394.13,27.81 L394.71,28.37 L395.29,28.93 L395.87,29.50 L396.45,30.06 L397.03,30.64 L397.61,31.21 L398.19,31.79 L398.77,32.38 L399.35,32.96 L399.93,33.55 L400.51,34.15 L401.09,34.74 L401.67,35.34 L402.25,35.95 L402.83,36.56 L403.40,37.17 L403.98,37.79 L404.56,38.41 L405.14,39.03 L405.72,39.66 L406.30,40.29 L406.88,40.92 L407.46,41.56 L408.04,42.20 L408.62,42.85 L409.20,43.50 L409.78,44.15 L410.36,44.81 L410.94,45.47 L411.52,46.14 L412.10,46.81 L412.68,47.49 L413.26,48.16 L413.84,48.85 L414.42,49.53 L415.00,50.22 L415.58,50.92 L416.16,51.62 L416.74,52.32 L417.32,53.02 L417.90,53.74 L418.48,54.45 L419.06,55.17 L419.64,55.89 L420.22,56.62 L420.80,57.35 L421.38,58.09 L421.96,58.82 L422.54,59.57 L423.11,60.32 L423.69,61.07 L424.27,61.82 L424.85,62.58 L425.43,63.34 L426.01,64.11 L426.59,64.88 L427.17,65.66 L427.75,66.44 L428.33,67.22 L428.91,68.01 L429.49,68.80 L430.07,69.59 L430.65,70.39 L431.23,71.19 L431.81,71.99 L432.39,72.80 L432.97,73.61 L433.55,74.43 L434.13,75.25 L434.71,76.07 L435.29,76.89 L435.87,77.72 L436.45,78.55 L437.03,79.38 L437.61,80.22 L438.19,81.06 L438.77,81.90 L439.35,82.75 L439.93,83.59 L440.51,84.44 L441.09,85.30 L441.67,86.15 L442.25,87.00 L442.82,87.86 L443.40,88.72 L443.98,89.58 L444.56,90.45 L445.14,91.31 L445.72,92.17 L446.30,93.04 L446.88,93.91 L447.46,94.77 L448.04,95.64 L448.62,96.51 L449.20,97.38 L449.78,98.25 L450.36,99.11 L450.94,99.98 L451.52,100.85 L452.10,101.71 L452.68,102.58 L453.26,103.44 L453.84,104.30 L454.42,105.16 L455.00,106.02 L455.58,106.88 L456.16,107.73 L456.74,108.58 L457.32,109.43 L457.90,110.27 L458.48,111.11 L459.06,111.95 L459.64,112.78 L460.22,113.61 L460.80,114.43 L461.38,115.25 L461.96,116.06 L462.53,116.87 L463.11,117.67 L463.69,118.47 L464.27,119.26 L464.85,120.04 L465.43,120.81 L466.01,121.58 L466.59,122.34 L467.17,123.09 L467.75,123.83 L468.33,124.57 L468.91,125.29 L469.49,126.01 L470.07,126.71 L470.65,127.41 L471.23,128.09 L471.81,128.76 L472.39,129.42 L472.97,130.07 L473.55,130.71 L474.13,131.34 L474.71,131.95 L475.29,132.55 L475.87,133.13 L476.45,133.70 L477.03,134.26 L477.61,134.80 L478.19,135.33 L478.77,135.84 L479.35,136.33 L479.93,136.81 L480.51,137.27 L481.09,137.71 L481.67,138.14 L482.24,138.54 L482.82,138.93 L483.40,139.30 L483.98,139.64 L484.56,139.97 L485.14,140.28 L485.72,140.56 L486.30,140.82 L486.88,141.06 L487.46,141.27 L488.04,141.47 L488.62,141.63 L489.20,141.77 L489.78,141.89 L490.36,141.98 L490.94,142.05 L491.52,142.09 L492.10,142.10 L492.68,142.09 L493.26,142.05 L493.84,141.98 L494.42,141.89 L495.00,141.77 L495.58,141.63 L496.16,141.47 L496.74,141.27 L497.32,141.06 L497.90,140.82 L498.48,140.56 L499.06,140.28 L499.64,139.97 L500.22,139.64 L500.80,139.30 L501.38,138.93 L501.96,138.54 L502.53,138.14 L503.11,137.71 L503.69,137.27 L504.27,136.81 L504.85,136.33 L505.43,135.84 L506.01,135.33 L506.59,134.80 L507.17,134.26 L507.75,133.70 L508.33,133.13 L508.91,132.55 L509.49,131.95 L510.07,131.34 L510.65,130.71 L511.23,130.07 L511.81,129.42 L512.39,128.76 L512.97,128.09 L513.55,127.41 L514.13,126.71 L514.71,126.01 L515.29,125.29 L515.87,124.57 L516.45,123.83 L517.03,123.09 L517.61,122.34 L518.19,121.58 L518.77,120.81 L519.35,120.04 L519.93,119.26 L520.51,118.47 L521.09,117.67 L521.67,116.87 L522.24,116.06 L522.82,115.25 L523.40,114.43 L523.98,113.61 L524.56,112.78 L525.14,111.95 L525.72,111.11 L526.30,110.27 L526.88,109.43 L527.46,108.58 L528.04,107.73 L528.62,106.88 L529.20,106.02 L529.78,105.16 L530.36,104.30 L530.94,103.44 L531.52,102.58 L532.10,101.71 L532.68,100.85 L533.26,99.98 L533.84,99.11 L534.42,98.25 L535.00,97.38 L535.58,96.51 L536.16,95.64 L536.74,94.77 L537.32,93.91 L537.90,93.04 L538.48,92.17 L539.06,91.31 L539.64,90.45 L540.22,89.58 L540.80,88.72 L541.38,87.86 L541.95,87.00 L542.53,86.15 L543.11,85.30 L543.69,84.44 L544.27,83.59 L544.85,82.75 L545.43,81.90 L546.01,81.06 L546.59,80.22 L547.17,79.38 L547.75,78.55 L548.33,77.72 L548.91,76.89 L549.49,76.07 L550.07,75.25 L550.65,74.43 L551.23,73.61 L551.81,72.80 L552.39,71.99 L552.97,71.19 L553.55,70.39 L554.13,69.59 L554.71,68.80 L555.29,68.01 L555.87,67.22 L556.45,66.44 L557.03,65.66 L557.61,64.88 L558.19,64.11 L558.77,63.34 L559.35,62.58 L559.93,61.82 L560.51,61.07 L561.09,60.32 L561.66,59.57 L562.24,58.82 L562.82,58.09 L563.40,57.35 L563.98,56.62 L564.56,55.89 L565.14,55.17 L565.72,54.45 L566.30,53.74 L566.88,53.02 L567.46,52.32 L568.04,51.62 L568.62,50.92 L569.20,50.22 L569.78,49.53 L570.36,48.85 L570.94,48.16 L571.52,47.49 L572.10,46.81 L572.68,46.14 L573.26,45.47 L573.84,44.81 L574.42,44.15 L575.00,43.50 L575.58,42.85 L576.16,42.20 L576.74,41.56 L577.32,40.92 L577.90,40.29 L578.48,39.66 L579.06,39.03 L579.64,38.41 L580.22,37.79 L580.80,37.17 L581.37,36.56 L581.95,35.95 L582.53,35.34 L583.11,34.74 L583.69,34.15 L584.27,33.55 L584.85,32.96 L585.43,32.38 L586.01,31.79 L586.59,31.21 L587.17,30.64 L587.75,30.06 L588.33,29.50 L588.91,28.93 L589.49,28.37 L590.07,27.81 L590.65,27.25 L591.23,26.70 L591.81,26.15 L592.39,25.61 L592.97,25.06 L593.55,24.52 L594.13,23.99 L594.71,23.45 L595.29,22.92 L595.87,22.40 L596.45,21.87 L597.03,21.35 L597.61,20.83 L598.19,20.32 L598.77,19.81 L599.35,19.30 L599.93,18.79 L600.51,18.29 L601.09,17.79 L601.66,17.29 L602.24,16.80 L602.82,16.31 L603.40,15.82 L603.98,15.33 L604.56,14.85 L605.14,14.36 L605.72,13.89 L606.30,13.41 L606.88,12.94 L607.46,12.47 L608.04,12.00" stroke="#0000ff" stroke-width="2.2"/>
<path d="M376.16,31.38 L376.74,31.79 L377.32,32.20 L377.90,32.62 L378.48,33.03 L379.06,33.45 L379.64,33.87 L380.22,34.30 L380.80,34.72 L381.38,35.15 L381.96,35.58 L382.54,36.02 L383.11,36.45 L383.69,36.89 L384.27,37.33 L384.85,37.77 L385.43,38.22 L386.01,38.67 L386.59,39.12 L387.17,39.57 L387.75,40.03 L388.33,40.49 L388.91,40.95 L389.49,41.41 L390.07,41.88 L390.65,42.35 L391.23,42.82 L391.81,43.30 L392.39,43.77 L392.97,44.26 L393.55,44.74 L394.13,45.23 L394.71,45.72 L395.29,46.21 L395.87,46.70 L396.45,47.20 L397.03,47.70 L397.61,48.21 L398.19,48.71 L398.77,49.22 L399.35,49.74 L399.93,50.26 L400.51,50.77 L401.09,51.30 L401.67,51.82 L402.25,52.35 L402.83,52.89 L403.40,53.42 L403.98,53.96 L404.56,54.50 L405.14,55.05 L405.72,55.60 L406.30,56.15 L406.88,56.71 L407.46,57.27 L408.04,57.83 L408.62,58.39 L409.20,58.96 L409.78,59.54 L410.36,60.11 L410.94,60.69 L411.52,61.28 L412.10,61.86 L412.68,62.45 L413.26,63.05 L413.84,63.64 L414.42,64.24 L415.00,64.85 L415.58,65.46 L416.16,66.07 L416.74,66.68 L417.32,67.30 L417.90,67.92 L418.48,68.55 L419.06,69.18 L419.64,69.81 L420.22,70.44 L420.80,71.08 L421.38,71.73 L421.96,72.37 L422.54,73.02 L423.11,73.68 L423.69,74.33 L424.27,74.99 L424.85,75.66 L425.43,76.33 L426.01,77.00 L426.59,77.67 L427.17,78.35 L427.75,79.03 L428.33,79.71 L428.91,80.40 L429.49,81.09 L430.07,81.78 L430.65,82.48 L431.23,83.18 L431.81,83.88 L432.39,84.58 L432.97,85.29 L433.55,86.00 L434.13,86.71 L434.71,87.43 L435.29,88.15 L435.87,88.87 L436.45,89.59 L437.03,90.32 L437.61,91.05 L438.19,91.78 L438.77,92.51 L439.35,93.24 L439.93,93.98 L440.51,94.71 L441.09,95.45 L441.67,96.19 L442.25,96.94 L442.82,97.68 L443.40,98.42 L443.98,99.17 L444.56,99.91 L445.14,100.66 L445.72,101.41 L446.30,102.16 L446.88,102.90 L447.46,103.65 L448.04,104.40 L448.62,105.15 L449.20,105.89 L449.78,106.64 L450.36,107.38 L450.94,108.13 L451.52,108.87 L452.10,109.61 L452.68,110.35 L453.26,111.09 L453.84,111.82 L454.42,112.56 L455.00,113.29 L455.58,114.02 L456.16,114.74 L456.74,115.46 L457.32,116.18 L457.90,116.89 L458.48,117.60 L459.06,118.31 L459.64,119.01 L460.22,119.71 L460.80,120.40 L461.38,121.08 L461.96,121.76 L462.53,122.43 L463.11,123.10 L463.69,123.76 L464.27,124.42 L464.85,125.06 L465.43,125.70 L466.01,126.33 L466.59,126.96 L467.17,127.57 L467.75,128.18 L468.33,128.77 L468.91,129.36 L469.49,129.94 L470.07,130.51 L470.65,131.06 L471.23,131.61 L471.81,132.15 L472.39,132.67 L472.97,133.19 L473.55,133.69 L474.13,134.18 L474.71,134.66 L475.29,135.12 L475.87,135.57 L476.45,136.01 L477.03,136.44 L477.61,136.85 L478.19,137.25 L478.77,137.63 L479.35,138.00 L479.93,138.36 L480.51,138.70 L481.09,139.02 L481.67,139.33 L482.24,139.63 L482.82,139.90 L483.40,140.17 L483.98,140.41 L484.56,140.64 L485.14,140.86 L485.72,141.05 L486.30,141.23 L486.88,141.40 L487.46,141.54 L488.04,141.67 L488.62,141.79 L489.20,141.88 L489.78,141.96 L490.36,142.02 L490.94,142.07 L491.52,142.09 L492.10,142.10 L492.68,142.09 L493.26,142.07 L493.84,142.02 L494.42,141.96 L495.00,141.88 L495.58,141.79 L496.16,141.67 L496.74,141.54 L497.32,141.40 L497.90,141.23 L498.48,141.05 L499.06,140.86 L499.64,140.64 L500.22,140.41 L500.80,140.17 L501.38,139.90 L501.96,139.63 L502.53,139.33 L503.11,139.02 L503.69,138.70 L504.27,138.36 L504.85,138.00 L505.43,137.63 L506.01,137.25 L506.59,136.85 L507.17,136.44 L507.75,136.01 L508.33,135.57 L508.91,135.12 L509.49,134.66 L510.07,134.18 L510.65,133.69 L511.23,133.19 L511.81,132.67 L512.39,132.15 L512.97,131.61 L513.55,131.06 L514.13,130.51 L514.71,129.94 L515.29,129.36 L515.87,128.77 L516.45,128.18 L517.03,127.57 L517.61,126.96 L518.19,126.33 L518.77,125.70 L519.35,125.06 L519.93,124.42 L520.51,123.76 L521.09,123.10 L521.67,122.43 L522.24,121.76 L522.82,121.08 L523.40,120.40 L523.98,119.71 L524.56,119.01 L525.14,118.31 L525.72,117.60 L526.30,116.89 L526.88,116.18 L527.46,115.46 L528.04,114.74 L528.62,114.02 L529.20,113.29 L529.78,112.56 L530.36,111.82 L530.94,111.09 L531.52,110.35 L532.10,109.61 L532.68,108.87 L533.26,108.13 L533.84,107.38 L534.42,106.64 L535.00,105.89 L535.58,105.15 L536.16,104.40 L536.74,103.65 L537.32,102.90 L537.90,102.16 L538.48,101.41 L539.06,100.66 L539.64,99.91 L540.22,99.17 L540.80,98.42 L541.38,97.68 L541.95,96.94 L542.53,96.19 L543.11,95.45 L543.69,94.71 L544.27,93.98 L544.85,93.24 L545.43,92.51 L546.01,91.78 L546.59,91.05 L547.17,90.32 L547.75,89.59 L548.33,88.87 L548.91,88.15 L549.49,87.43 L550.07,86.71 L550.65,86.00 L551.23,85.29 L551.81,84.58 L552.39,83.88 L552.97,83.18 L553.55,82.48 L554.13,81.78 L554.71,81.09 L555.29,80.40 L555.87,79.71 L556.45,79.03 L557.03,78.35 L557.61,77.67 L558.19,77.00 L558.77,76.33 L559.35,75.66 L559.93,74.99 L560.51,74.33 L561.09,73.68 L561.66,73.02 L562.24,72.37 L562.82,71.73 L563.40,71.08 L563.98,70.44 L564.56,69.81 L565.14,69.18 L565.72,68.55 L566.30,67.92 L566.88,67.30 L567.46,66.68 L568.04,66.07 L568.62,65.46 L569.20,64.85 L569.78,64.24 L570.36,63.64 L570.94,63.05 L571.52,62.45 L572.10,61.86 L572.68,61.28 L573.26,60.69 L573.84,60.11 L574.42,59.54 L575.00,58.96 L575.58,58.39 L576.16,57.83 L576.74,57.27 L577.32,56.71 L577.90,56.15 L578.48,55.60 L579.06,55.05 L579.64,54.50 L580.22,53.96 L580.80,53.42 L581.37,52.89 L581.95,52.35 L582.53,51.82 L583.11,51.30 L583.69,50.77 L584.27,50.26 L584.85,49.74 L585.43,49.22 L586.01,48.71 L586.59,48.21 L587.17,47.70 L587.75,47.20 L588.33,46.70 L588.91,46.21 L589.49,45.72 L590.07,45.23 L590.65,44.74 L591.23,44.26 L591.81,43.77 L592.39,43.30 L592.97,42.82 L593.55,42.35 L594.13,41.88 L594.71,41.41 L595.29,40.95 L595.87,40.49 L596.45,40.03 L597.03,39.57 L597.61,39.12 L598.19,38.67 L598.77,38.22 L599.35,37.77 L599.93,37.33 L600.51,36.89 L601.09,36.45 L601.66,36.02 L602.24,35.58 L602.82,35.15 L603.40,34.72 L603.98,34.30 L604.56,33.87 L605.14,33.45 L605.72,33.03 L606.30,32.62 L606.88,32.20 L607.46,31.79 L608.04,31.38" stroke="#00ff00" stroke-width="2.2"/>
<path d="M376.16,47.22 L376.74,47.50 L377.32,47.77 L377.90,48.05 L378.48,48.34 L379.06,48.62 L379.64,48.91 L380.22,49.20 L380.80,49.49 L381.38,49.79 L381.96,50.09 L382.54,50.39 L383.11,50.69 L383.69,51.00 L384.27,51.31 L384.85,51.62 L385.43,51.94 L386.01,52.26 L386.59,52.58 L387.17,52.90 L387.75,53.23 L388.33,53.56 L388.91,53.89 L389.49,54.23 L390.07,54.57 L390.65,54.91 L391.23,55.26 L391.81,55.61 L392.39,55.96 L392.97,56.32 L393.55,56.68 L394.13,57.04 L394.71,57.40 L395.29,57.77 L395.87,58.15 L396.45,58.52 L397.03,58.90 L397.61,59.28 L398.19,59.67 L398.77,60.06 L399.35,60.45 L399.93,60.85 L400.51,61.25 L401.09,61.66 L401.67,62.06 L402.25,62.48 L402.83,62.89 L403.40,63.31 L403.98,63.73 L404.56,64.16 L405.14,64.59 L405.72,65.03 L406.30,65.46 L406.88,65.91 L407.46,66.35 L408.04,66.80 L408.62,67.26 L409.20,67.71 L409.78,68.18 L410.36,68.64 L410.94,69.11 L411.52,69.58 L412.10,70.06 L412.68,70.54 L413.26,71.03 L413.84,71.52 L414.42,72.01 L415.00,72.51 L415.58,73.01 L416.16,73.52 L416.74,74.03 L417.32,74.54 L417.90,75.06 L418.48,75.59 L419.06,76.11 L419.64,76.64 L420.22,77.18 L420.80,77.72 L421.38,78.26 L421.96,78.81 L422.54,79.36 L423.11,79.91 L423.69,80.47 L424.27,81.04 L424.85,81.61 L425.43,82.18 L426.01,82.75 L426.59,83.33 L427.17,83.92 L427.75,84.50 L428.33,85.09 L428.91,85.69 L429.49,86.29 L430.07,86.89 L430.65,87.50 L431.23,88.11 L431.81,88.72 L432.39,89.34 L432.97,89.96 L433.55,90.58 L434.13,91.21 L434.71,91.84 L435.29,92.47 L435.87,93.11 L436.45,93.75 L437.03,94.40 L437.61,95.04 L438.19,95.69 L438.77,96.34 L439.35,97.00 L439.93,97.65 L440.51,98.31 L441.09,98.98 L441.67,99.64 L442.25,100.31 L442.82,100.97 L443.40,101.64 L443.98,102.32 L444.56,102.99 L445.14,103.66 L445.72,104.34 L446.30,105.02 L446.88,105.69 L447.46,106.37 L448.04,107.05 L448.62,107.73 L449.20,108.41 L449.78,109.09 L450.36,109.77 L450.94,110.45 L451.52,111.13 L452.10,111.81 L452.68,112.49 L453.26,113.17 L453.84,113.84 L454.42,114.52 L455.00,115.19 L455.58,115.86 L456.16,116.53 L456.74,117.19 L457.32,117.85 L457.90,118.51 L458.48,119.17 L459.06,119.82 L459.64,120.47 L460.22,121.12 L460.80,121.76 L461.38,122.39 L461.96,123.03 L462.53,123.65 L463.11,124.27 L463.69,124.89 L464.27,125.50 L464.85,126.10 L465.43,126.69 L466.01,127.28 L466.59,127.86 L467.17,128.44 L467.75,129.00 L468.33,129.56 L468.91,130.11 L469.49,130.65 L470.07,131.19 L470.65,131.71 L471.23,132.22 L471.81,132.72 L472.39,133.22 L472.97,133.70 L473.55,134.17 L474.13,134.63 L474.71,135.08 L475.29,135.52 L475.87,135.94 L476.45,136.36 L477.03,136.76 L477.61,137.15 L478.19,137.52 L478.77,137.88 L479.35,138.23 L479.93,138.57 L480.51,138.89 L481.09,139.19 L481.67,139.49 L482.24,139.76 L482.82,140.03 L483.40,140.27 L483.98,140.51 L484.56,140.72 L485.14,140.92 L485.72,141.11 L486.30,141.28 L486.88,141.44 L487.46,141.58 L488.04,141.70 L488.62,141.80 L489.20,141.89 L489.78,141.97 L490.36,142.03 L490.94,142.07 L491.52,142.09 L492.10,142.10 L492.68,142.09 L493.26,142.07 L493.84,142.03 L494.42,141.97 L495.00,141.89 L495.58,141.80 L496.16,141.70 L496.74,141.58 L497.32,141.44 L497.90,141.28 L498.48,141.11 L499.06,140.92 L499.64,140.72 L500.22,140.51 L500.80,140.27 L501.38,140.03 L501.96,139.76 L502.53,139.49 L503.11,139.19 L503.69,138.89 L504.27,138.57 L504.85,138.23 L505.43,137.88 L506.01,137.52 L506.59,137.15 L507.17,136.76 L507.75,136.36 L508.33,135.94 L508.91,135.52 L509.49,135.08 L510.07,134.63 L510.65,134.17 L511.23,133.70 L511.81,133.22 L512.39,132.72 L512.97,132.22 L513.55,131.71 L514.13,131.19 L514.71,130.65 L515.29,130.11 L515.87,129.56 L516.45,129.00 L517.03,128.44 L517.61,127.86 L518.19,127.28 L518.77,126.69 L519.35,126.10 L519.93,125.50 L520.51,124.89 L521.09,124.27 L521.67,123.65 L522.24,123.03 L522.82,122.39 L523.40,121.76 L523.98,121.12 L524.56,120.47 L525.14,119.82 L525.72,119.17 L526.30,118.51 L526.88,117.85 L527.46,117.19 L528.04,116.53 L528.62,115.86 L529.20,115.19 L529.78,114.52 L530.36,113.84 L530.94,113.17 L531.52,112.49 L532.10,111.81 L532.68,111.13 L533.26,110.45 L533.84,109.77 L534.42,109.09 L535.00,108.41 L535.58,107.73 L536.16,107.05 L536.74,106.37 L537.32,105.69 L537.90,105.02 L538.48,104.34 L539.06,103.66 L539.64,102.99 L540.22,102.32 L540.80,101.64 L541.38,100.97 L541.95,100.31 L542.53,99.64 L543.11,98.98 L543.69,98.31 L544.27,97.65 L544.85,97.00 L545.43,96.34 L546.01,95.69 L546.59,95.04 L547.17,94.40 L547.75,93.75 L548.33,93.11 L548.91,92.47 L549.49,91.84 L550.07,91.21 L550.65,90.58 L551.23,89.96 L551.81,89.34 L552.39,88.72 L552.97,88.11 L553.55,87.50 L554.13,86.89 L554.71,86.29 L555.29,85.69 L555.87,85.09 L556.45,84.50 L557.03,83.92 L557.61,83.33 L558.19,82.75 L558.77,82.18 L559.35,81.61 L559.93,81.04 L560.51,80.47 L561.09,79.91 L561.66,79.36 L562.24,78.81 L562.82,78.26 L563.40,77.72 L563.98,77.18 L564.56,76.64 L565.14,76.11 L565.72,75.59 L566.30,75.06 L566.88,74.54 L567.46,74.03 L568.04,73.52 L568.62,73.01 L569.20,72.51 L569.78,72.01 L570.36,71.52 L570.94,71.03 L571.52,70.54 L572.10,70.06 L572.68,69.58 L573.26,69.11 L573.84,68.64 L574.42,68.18 L575.00,67.71 L575.58,67.26 L576.16,66.80 L576.74,66.35 L577.32,65.91 L577.90,65.46 L578.48,65.03 L579.06,64.59 L579.64,64.16 L580.22,63.73 L580.80,63.31 L581.37,62.89 L581.95,62.48 L582.53,62.06 L583.11,61.66 L583.69,61.25 L584.27,60.85 L584.85,60.45 L585.43,60.06 L586.01,59.67 L586.59,59.28 L587.17,58.90 L587.75,58.52 L588.33,58.15 L588.91,57.77 L589.49,57.40 L590.07,57.04 L590.65,56.68 L591.23,56.32 L591.81,55.96 L592.39,55.61 L592.97,55.26 L593.55,54.91 L594.13,54.57 L594.71,54.23 L595.29,53.89 L595.87,53.56 L596.45,53.23 L597.03,52.90 L597.61,52.58 L598.19,52.26 L598.77,51.94 L599.35,51.62 L599.93,51.31 L600.51,51.00 L601.09,50.69 L601.66,50.39 L602.24,50.09 L602.82,49.79 L603.40,49.49 L603.98,49.20 L604.56,48.91 L605.14,48.62 L605.72,48.34 L606.30,48.05 L606.88,47.77 L607.46,47.50 L608.04,47.22" stroke="#ff0000" stroke-width="2.5" stroke-dasharray="6.0 2.1"/>
</g>
<path d="M399.90,150.45 v-3.00 M399.90,2.05 v3.00 M446.00,150.45 v-3.00 M446.00,2.05 v3.00 M492.10,150.45 v-3.00 M492.10,2.05 v3.00 M538.20,150.45 v-3.00 M538.20,2.05 v3.00 M584.30,150.45 v-3.00 M584.30,2.05 v3.00 M376.85,150.45 v-2.00 M376.85,2.05 v2.00 M388.38,150.45 v-2.00 M388.38,2.05 v2.00 M399.90,150.45 v-2.00 M399.90,2.05 v2.00 M411.43,150.45 v-2.00 M411.43,2.05 v2.00 M422.95,150.45 v-2.00 M422.95,2.05 v2.00 M434.48,150.45 v-2.00 M434.48,2.05 v2.00 M446.00,150.45 v-2.00 M446.00,2.05 v2.00 M457.53,150.45 v-2.00 M457.53,2.05 v2.00 M469.05,150.45 v-2.00 M469.05,2.05 v2.00 M480.58,150.45 v-2.00 M480.58,2.05 v2.00 M492.10,150.45 v-2.00 M492.10,2.05 v2.00 M503.62,150.45 v-2.00 M503.62,2.05 v2.00 M515.15,150.45 v-2.00 M515.15,2.05 v2.00 M526.68,150.45 v-2.00 M526.68,2.05 v2.00 M538.20,150.45 v-2.00 M538.20,2.05 v2.00 M549.73,150.45 v-2.00 M549.73,2.05 v2.00 M561.25,150.45 v-2.00 M561.25,2.05 v2.00 M572.77,150.45 v-2.00 M572.77,2.05 v2.00 M584.30,150.45 v-2.00 M584.30,2.05 v2.00 M595.83,150.45 v-2.00 M595.83,2.05 v2.00 M607.35,150.45 v-2.00 M607.35,2.05 v2.00 M372.25,142.10 h3.00 M612.40,142.10 h-3.00 M372.25,100.97 h3.00 M612.40,100.97 h-3.00 M372.25,59.83 h3.00 M612.40,59.83 h-3.00 M372.25,18.69 h3.00 M612.40,18.69 h-3.00 M372.25,142.10 h2.00 M612.40,142.10 h-2.00 M372.25,133.87 h2.00 M612.40,133.87 h-2.00 M372.25,125.65 h2.00 M612.40,125.65 h-2.00 M372.25,117.42 h2.00 M612.40,117.42 h-2.00 M372.25,109.19 h2.00 M612.40,109.19 h-2.00 M372.25,100.97 h2.00 M612.40,100.97 h-2.00 M372.25,92.74 h2.00 M612.40,92.74 h-2.00 M372.25,84.51 h2.00 M612.40,84.51 h-2.00 M372.25,76.28 h2.00 M612.40,76.28 h-2.00 M372.25,68.06 h2.00 M612.40,68.06 h-2.00 M372.25,59.83 h2.00 M612.40,59.83 h-2.00 M372.25,51.60 h2.00 M612.40,51.60 h-2.00 M372.25,43.38 h2.00 M612.40,43.38 h-2.00 M372.25,35.15 h2.00 M612.40,35.15 h-2.00 M372.25,26.92 h2.00 M612.40,26.92 h-2.00 M372.25,18.69 h2.00 M612.40,18.69 h-2.00 M372.25,10.47 h2.00 M612.40,10.47 h-2.00" stroke="#000" stroke-width="1.45" fill="none"/>
<rect x="372.25" y="2.05" width="240.15" height="148.40" fill="none" stroke="#000" stroke-width="2.15"/>
<rect x="388.98" y="163.35" width="10.10" height="2.10" fill="#000"/>
<text x="401.68" y="169.50" font-size="18.3">4</text>
<rect x="435.07" y="163.35" width="10.10" height="2.10" fill="#000"/>
<text x="447.78" y="169.50" font-size="18.3">2</text>
<text x="492.10" y="169.50" text-anchor="middle" font-size="18.3">0</text>
<text x="538.20" y="169.50" text-anchor="middle" font-size="18.3">2</text>
<text x="584.30" y="169.50" text-anchor="middle" font-size="18.3">4</text>
<text x="368.60" y="148.00" text-anchor="end" font-size="18.3">0</text>
<text x="368.60" y="106.87" text-anchor="end" font-size="18.3">50</text>
<text x="368.60" y="65.73" text-anchor="end" font-size="18.3">100</text>
<text x="368.60" y="24.59" text-anchor="end" font-size="18.3">150</text>
<clipPath id="cc"><rect x="69.20" y="199.40" width="236.90" height="146.15"/></clipPath>
<g clip-path="url(#cc)" fill="none" stroke-linejoin="round">
<path d="M72.55,214.35 L73.12,214.35 L73.69,214.34 L74.26,214.34 L74.83,214.34 L75.40,214.33 L75.97,214.33 L76.53,214.32 L77.10,214.32 L77.67,214.31 L78.24,214.31 L78.81,214.30 L79.38,214.30 L79.95,214.29 L80.52,214.29 L81.08,214.28 L81.65,214.28 L82.22,214.28 L82.79,214.27 L83.36,214.27 L83.93,214.26 L84.50,214.26 L85.07,214.25 L85.63,214.25 L86.20,214.24 L86.77,214.24 L87.34,214.23 L87.91,214.23 L88.48,214.22 L89.05,214.22 L89.62,214.22 L90.19,214.21 L90.75,214.21 L91.32,214.20 L91.89,214.20 L92.46,214.19 L93.03,214.19 L93.60,214.18 L94.17,214.18 L94.74,214.17 L95.30,214.17 L95.87,214.16 L96.44,214.16 L97.01,214.16 L97.58,214.15 L98.15,214.15 L98.72,214.14 L99.29,214.14 L99.85,214.13 L100.42,214.13 L100.99,214.12 L101.56,214.12 L102.13,214.11 L102.70,214.11 L103.27,214.10 L103.84,214.10 L104.41,214.10 L104.97,214.09 L105.54,214.09 L106.11,214.08 L106.68,214.08 L107.25,214.07 L107.82,214.07 L108.39,214.06 L108.96,214.06 L109.52,214.05 L110.09,214.05 L110.66,214.04 L111.23,214.04 L111.80,214.04 L112.37,214.03 L112.94,214.03 L113.51,214.02 L114.07,214.02 L114.64,214.01 L115.21,214.01 L115.78,214.00 L116.35,214.00 L116.92,213.99 L117.49,213.99 L118.06,213.98 L118.63,213.98 L119.19,213.98 L119.76,213.97 L120.33,213.97 L120.90,213.96 L121.47,213.96 L122.04,213.95 L122.61,213.95 L123.18,213.94 L123.74,213.94 L124.31,213.93 L124.88,213.93 L125.45,213.92 L126.02,213.92 L126.59,213.92 L127.16,213.91 L127.73,213.91 L128.29,213.90 L128.86,213.90 L129.43,213.89 L130.00,213.89 L130.57,213.88 L131.14,213.88 L131.71,213.87 L132.28,213.87 L132.85,213.87 L133.41,213.86 L133.98,213.86 L134.55,213.85 L135.12,213.85 L135.69,213.85 L136.26,213.84 L136.83,213.84 L137.40,213.84 L137.96,213.83 L138.53,213.83 L139.10,213.83 L139.67,213.83 L140.24,213.83 L140.81,213.83 L141.38,213.83 L141.95,213.83 L142.51,213.84 L143.08,213.84 L143.65,213.85 L144.22,213.86 L144.79,213.88 L145.36,213.90 L145.93,213.92 L146.50,213.95 L147.07,213.98 L147.63,214.02 L148.20,214.06 L148.77,214.12 L149.34,214.19 L149.91,214.26 L150.48,214.36 L151.05,214.46 L151.62,214.59 L152.18,214.73 L152.75,214.89 L153.32,215.08 L153.89,215.30 L154.46,215.55 L155.03,215.83 L155.60,216.15 L156.17,216.52 L156.73,216.93 L157.30,217.39 L157.87,217.90 L158.44,218.48 L159.01,219.13 L159.58,219.84 L160.15,220.64 L160.72,221.51 L161.29,222.48 L161.85,223.54 L162.42,224.70 L162.99,225.97 L163.56,227.35 L164.13,228.85 L164.70,230.47 L165.27,232.21 L165.84,234.09 L166.40,236.10 L166.97,238.24 L167.54,240.53 L168.11,242.95 L168.68,245.51 L169.25,248.21 L169.82,251.04 L170.39,254.00 L170.95,257.10 L171.52,260.31 L172.09,263.63 L172.66,267.06 L173.23,270.57 L173.80,274.17 L174.37,277.84 L174.94,281.55 L175.51,285.30 L176.07,289.07 L176.64,292.84 L177.21,296.60 L177.78,300.31 L178.35,303.96 L178.92,307.53 L179.49,310.99 L180.06,314.34 L180.62,317.53 L181.19,320.56 L181.76,323.41 L182.33,326.05 L182.90,328.46 L183.47,330.63 L184.04,332.55 L184.61,334.19 L185.17,335.55 L185.74,336.62 L186.31,337.39 L186.88,337.85 L187.45,338.00 L188.02,337.84 L188.59,337.38 L189.16,336.61 L189.73,335.53 L190.29,334.17 L190.86,332.52 L191.43,330.60 L192.00,328.42 L192.57,326.00 L193.14,323.36 L193.71,320.51 L194.28,317.48 L194.84,314.28 L195.41,310.93 L195.98,307.46 L196.55,303.88 L197.12,300.23 L197.69,296.51 L198.26,292.76 L198.83,288.98 L199.39,285.21 L199.96,281.45 L200.53,277.73 L201.10,274.06 L201.67,270.46 L202.24,266.94 L202.81,263.51 L203.38,260.18 L203.95,256.96 L204.51,253.87 L205.08,250.90 L205.65,248.06 L206.22,245.36 L206.79,242.79 L207.36,240.36 L207.93,238.08 L208.50,235.93 L209.06,233.91 L209.63,232.03 L210.20,230.28 L210.77,228.66 L211.34,227.16 L211.91,225.77 L212.48,224.50 L213.05,223.33 L213.61,222.27 L214.18,221.30 L214.75,220.42 L215.32,219.62 L215.89,218.90 L216.46,218.25 L217.03,217.66 L217.60,217.14 L218.17,216.68 L218.73,216.26 L219.30,215.89 L219.87,215.57 L220.44,215.28 L221.01,215.03 L221.58,214.81 L222.15,214.61 L222.72,214.44 L223.28,214.29 L223.85,214.17 L224.42,214.06 L224.99,213.96 L225.56,213.88 L226.13,213.81 L226.70,213.75 L227.27,213.69 L227.83,213.65 L228.40,213.61 L228.97,213.58 L229.54,213.55 L230.11,213.53 L230.68,213.51 L231.25,213.50 L231.82,213.48 L232.39,213.47 L232.95,213.46 L233.52,213.46 L234.09,213.45 L234.66,213.44 L235.23,213.44 L235.80,213.44 L236.37,213.43 L236.94,213.43 L237.50,213.43 L238.07,213.43 L238.64,213.43 L239.21,213.43 L239.78,213.43 L240.35,213.42 L240.92,213.42 L241.49,213.42 L242.05,213.42 L242.62,213.42 L243.19,213.42 L243.76,213.42 L244.33,213.42 L244.90,213.42 L245.47,213.42 L246.04,213.42 L246.61,213.42 L247.17,213.42 L247.74,213.42 L248.31,213.42 L248.88,213.42 L249.45,213.42 L250.02,213.42 L250.59,213.42 L251.16,213.42 L251.72,213.42 L252.29,213.42 L252.86,213.42 L253.43,213.42 L254.00,213.42 L254.57,213.42 L255.14,213.42 L255.71,213.42 L256.27,213.42 L256.84,213.42 L257.41,213.42 L257.98,213.42 L258.55,213.42 L259.12,213.42 L259.69,213.42 L260.26,213.42 L260.83,213.42 L261.39,213.42 L261.96,213.42 L262.53,213.42 L263.10,213.42 L263.67,213.42 L264.24,213.42 L264.81,213.42 L265.38,213.42 L265.94,213.42 L266.51,213.42 L267.08,213.42 L267.65,213.42 L268.22,213.42 L268.79,213.42 L269.36,213.42 L269.93,213.42 L270.49,213.42 L271.06,213.42 L271.63,213.42 L272.20,213.42 L272.77,213.42 L273.34,213.42 L273.91,213.42 L274.48,213.42 L275.05,213.42 L275.61,213.42 L276.18,213.42 L276.75,213.42 L277.32,213.42 L277.89,213.42 L278.46,213.42 L279.03,213.42 L279.60,213.42 L280.16,213.42 L280.73,213.42 L281.30,213.42 L281.87,213.42 L282.44,213.42 L283.01,213.42 L283.58,213.42 L284.15,213.42 L284.71,213.42 L285.28,213.42 L285.85,213.42 L286.42,213.42 L286.99,213.42 L287.56,213.42 L288.13,213.42 L288.70,213.42 L289.27,213.42 L289.83,213.42 L290.40,213.42 L290.97,213.42 L291.54,213.42 L292.11,213.42 L292.68,213.42 L293.25,213.42 L293.82,213.42 L294.38,213.42 L294.95,213.42 L295.52,213.42 L296.09,213.42 L296.66,213.42 L297.23,213.42 L297.80,213.42 L298.37,213.42 L298.93,213.42 L299.50,213.42 L300.07,213.42 L300.64,213.42 L301.21,213.42 L301.78,213.42 L302.35,213.42" stroke="#00ff00" stroke-width="2.2"/>
<path d="M72.55,212.96 L73.12,212.96 L73.69,212.96 L74.26,212.96 L74.83,212.97 L75.40,212.97 L75.97,212.97 L76.53,212.97 L77.10,212.97 L77.67,212.98 L78.24,212.98 L78.81,212.98 L79.38,212.98 L79.95,212.99 L80.52,212.99 L81.08,212.99 L81.65,212.99 L82.22,213.00 L82.79,213.00 L83.36,213.00 L83.93,213.00 L84.50,213.00 L85.07,213.01 L85.63,213.01 L86.20,213.01 L86.77,213.01 L87.34,213.02 L87.91,213.02 L88.48,213.02 L89.05,213.02 L89.62,213.03 L90.19,213.03 L90.75,213.03 L91.32,213.03 L91.89,213.03 L92.46,213.04 L93.03,213.04 L93.60,213.04 L94.17,213.04 L94.74,213.05 L95.30,213.05 L95.87,213.05 L96.44,213.05 L97.01,213.06 L97.58,213.06 L98.15,213.06 L98.72,213.06 L99.29,213.06 L99.85,213.07 L100.42,213.07 L100.99,213.07 L101.56,213.07 L102.13,213.08 L102.70,213.08 L103.27,213.08 L103.84,213.08 L104.41,213.09 L104.97,213.09 L105.54,213.09 L106.11,213.09 L106.68,213.09 L107.25,213.10 L107.82,213.10 L108.39,213.10 L108.96,213.10 L109.52,213.11 L110.09,213.11 L110.66,213.11 L111.23,213.11 L111.80,213.12 L112.37,213.12 L112.94,213.12 L113.51,213.12 L114.07,213.12 L114.64,213.13 L115.21,213.13 L115.78,213.13 L116.35,213.13 L116.92,213.14 L117.49,213.14 L118.06,213.14 L118.63,213.14 L119.19,213.15 L119.76,213.15 L120.33,213.15 L120.90,213.15 L121.47,213.15 L122.04,213.16 L122.61,213.16 L123.18,213.16 L123.74,213.16 L124.31,213.17 L124.88,213.17 L125.45,213.17 L126.02,213.17 L126.59,213.18 L127.16,213.18 L127.73,213.18 L128.29,213.18 L128.86,213.18 L129.43,213.19 L130.00,213.19 L130.57,213.19 L131.14,213.19 L131.71,213.20 L132.28,213.20 L132.85,213.20 L133.41,213.20 L133.98,213.21 L134.55,213.21 L135.12,213.21 L135.69,213.22 L136.26,213.22 L136.83,213.22 L137.40,213.23 L137.96,213.23 L138.53,213.24 L139.10,213.24 L139.67,213.25 L140.24,213.25 L140.81,213.26 L141.38,213.27 L141.95,213.28 L142.51,213.29 L143.08,213.30 L143.65,213.32 L144.22,213.34 L144.79,213.36 L145.36,213.38 L145.93,213.41 L146.50,213.45 L147.07,213.49 L147.63,213.53 L148.20,213.59 L148.77,213.65 L149.34,213.72 L149.91,213.81 L150.48,213.91 L151.05,214.02 L151.62,214.15 L152.18,214.30 L152.75,214.47 L153.32,214.67 L153.89,214.89 L154.46,215.15 L155.03,215.44 L155.60,215.76 L156.17,216.13 L156.73,216.55 L157.30,217.02 L157.87,217.54 L158.44,218.13 L159.01,218.78 L159.58,219.50 L160.15,220.30 L160.72,221.19 L161.29,222.16 L161.85,223.23 L162.42,224.40 L162.99,225.67 L163.56,227.06 L164.13,228.56 L164.70,230.19 L165.27,231.94 L165.84,233.82 L166.40,235.84 L166.97,237.99 L167.54,240.28 L168.11,242.71 L168.68,245.28 L169.25,247.99 L169.82,250.83 L170.39,253.80 L170.95,256.90 L171.52,260.11 L172.09,263.44 L172.66,266.88 L173.23,270.40 L173.80,274.01 L174.37,277.68 L174.94,281.40 L175.51,285.16 L176.07,288.94 L176.64,292.71 L177.21,296.47 L177.78,300.19 L178.35,303.85 L178.92,307.42 L179.49,310.90 L180.06,314.25 L180.62,317.45 L181.19,320.49 L181.76,323.34 L182.33,325.98 L182.90,328.40 L183.47,330.58 L184.04,332.50 L184.61,334.16 L185.17,335.52 L185.74,336.60 L186.31,337.37 L186.88,337.84 L187.45,338.00 L188.02,337.84 L188.59,337.38 L189.16,336.61 L189.73,335.53 L190.29,334.17 L190.86,332.52 L191.43,330.60 L192.00,328.42 L192.57,326.00 L193.14,323.36 L193.71,320.51 L194.28,317.48 L194.84,314.28 L195.41,310.93 L195.98,307.46 L196.55,303.88 L197.12,300.23 L197.69,296.51 L198.26,292.76 L198.83,288.98 L199.39,285.21 L199.96,281.45 L200.53,277.73 L201.10,274.06 L201.67,270.46 L202.24,266.94 L202.81,263.51 L203.38,260.18 L203.95,256.96 L204.51,253.87 L205.08,250.90 L205.65,248.06 L206.22,245.36 L206.79,242.79 L207.36,240.36 L207.93,238.08 L208.50,235.93 L209.06,233.91 L209.63,232.03 L210.20,230.28 L210.77,228.66 L211.34,227.16 L211.91,225.77 L212.48,224.50 L213.05,223.33 L213.61,222.27 L214.18,221.30 L214.75,220.42 L215.32,219.62 L215.89,218.90 L216.46,218.25 L217.03,217.66 L217.60,217.14 L218.17,216.68 L218.73,216.26 L219.30,215.89 L219.87,215.57 L220.44,215.28 L221.01,215.03 L221.58,214.81 L222.15,214.61 L222.72,214.44 L223.28,214.29 L223.85,214.17 L224.42,214.06 L224.99,213.96 L225.56,213.88 L226.13,213.81 L226.70,213.75 L227.27,213.69 L227.83,213.65 L228.40,213.61 L228.97,213.58 L229.54,213.55 L230.11,213.53 L230.68,213.51 L231.25,213.50 L231.82,213.48 L232.39,213.47 L232.95,213.46 L233.52,213.46 L234.09,213.45 L234.66,213.44 L235.23,213.44 L235.80,213.44 L236.37,213.43 L236.94,213.43 L237.50,213.43 L238.07,213.43 L238.64,213.43 L239.21,213.43 L239.78,213.43 L240.35,213.42 L240.92,213.42 L241.49,213.42 L242.05,213.42 L242.62,213.42 L243.19,213.42 L243.76,213.42 L244.33,213.42 L244.90,213.42 L245.47,213.42 L246.04,213.42 L246.61,213.42 L247.17,213.42 L247.74,213.42 L248.31,213.42 L248.88,213.42 L249.45,213.42 L250.02,213.42 L250.59,213.42 L251.16,213.42 L251.72,213.42 L252.29,213.42 L252.86,213.42 L253.43,213.42 L254.00,213.42 L254.57,213.42 L255.14,213.42 L255.71,213.42 L256.27,213.42 L256.84,213.42 L257.41,213.42 L257.98,213.42 L258.55,213.42 L259.12,213.42 L259.69,213.42 L260.26,213.42 L260.83,213.42 L261.39,213.42 L261.96,213.42 L262.53,213.42 L263.10,213.42 L263.67,213.42 L264.24,213.42 L264.81,213.42 L265.38,213.42 L265.94,213.42 L266.51,213.42 L267.08,213.42 L267.65,213.42 L268.22,213.42 L268.79,213.42 L269.36,213.42 L269.93,213.42 L270.49,213.42 L271.06,213.42 L271.63,213.42 L272.20,213.42 L272.77,213.42 L273.34,213.42 L273.91,213.42 L274.48,213.42 L275.05,213.42 L275.61,213.42 L276.18,213.42 L276.75,213.42 L277.32,213.42 L277.89,213.42 L278.46,213.42 L279.03,213.42 L279.60,213.42 L280.16,213.42 L280.73,213.42 L281.30,213.42 L281.87,213.42 L282.44,213.42 L283.01,213.42 L283.58,213.42 L284.15,213.42 L284.71,213.42 L285.28,213.42 L285.85,213.42 L286.42,213.42 L286.99,213.42 L287.56,213.42 L288.13,213.42 L288.70,213.42 L289.27,213.42 L289.83,213.42 L290.40,213.42 L290.97,213.42 L291.54,213.42 L292.11,213.42 L292.68,213.42 L293.25,213.42 L293.82,213.42 L294.38,213.42 L294.95,213.42 L295.52,213.42 L296.09,213.42 L296.66,213.42 L297.23,213.42 L297.80,213.42 L298.37,213.42 L298.93,213.42 L299.50,213.42 L300.07,213.42 L300.64,213.42 L301.21,213.42 L301.78,213.42 L302.35,213.42" stroke="#0000ff" stroke-width="2.2"/>
<path d="M72.55,213.42 L73.12,213.42 L73.69,213.42 L74.26,213.42 L74.83,213.42 L75.40,213.42 L75.97,213.42 L76.53,213.42 L77.10,213.42 L77.67,213.42 L78.24,213.42 L78.81,213.42 L79.38,213.42 L79.95,213.42 L80.52,213.42 L81.08,213.42 L81.65,213.42 L82.22,213.42 L82.79,213.42 L83.36,213.42 L83.93,213.42 L84.50,213.42 L85.07,213.42 L85.63,213.42 L86.20,213.42 L86.77,213.42 L87.34,213.42 L87.91,213.42 L88.48,213.42 L89.05,213.42 L89.62,213.42 L90.19,213.42 L90.75,213.42 L91.32,213.42 L91.89,213.42 L92.46,213.42 L93.03,213.42 L93.60,213.42 L94.17,213.42 L94.74,213.42 L95.30,213.42 L95.87,213.42 L96.44,213.42 L97.01,213.42 L97.58,213.42 L98.15,213.42 L98.72,213.42 L99.29,213.42 L99.85,213.42 L100.42,213.42 L100.99,213.42 L101.56,213.42 L102.13,213.42 L102.70,213.42 L103.27,213.42 L103.84,213.42 L104.41,213.42 L104.97,213.42 L105.54,213.42 L106.11,213.42 L106.68,213.42 L107.25,213.42 L107.82,213.42 L108.39,213.42 L108.96,213.42 L109.52,213.42 L110.09,213.42 L110.66,213.42 L111.23,213.42 L111.80,213.42 L112.37,213.42 L112.94,213.42 L113.51,213.42 L114.07,213.42 L114.64,213.42 L115.21,213.42 L115.78,213.42 L116.35,213.42 L116.92,213.42 L117.49,213.42 L118.06,213.42 L118.63,213.42 L119.19,213.42 L119.76,213.42 L120.33,213.42 L120.90,213.42 L121.47,213.42 L122.04,213.42 L122.61,213.42 L123.18,213.42 L123.74,213.42 L124.31,213.42 L124.88,213.42 L125.45,213.42 L126.02,213.42 L126.59,213.42 L127.16,213.42 L127.73,213.42 L128.29,213.42 L128.86,213.42 L129.43,213.42 L130.00,213.42 L130.57,213.42 L131.14,213.42 L131.71,213.42 L132.28,213.42 L132.85,213.42 L133.41,213.42 L133.98,213.42 L134.55,213.42 L135.12,213.43 L135.69,213.43 L136.26,213.43 L136.83,213.43 L137.40,213.43 L137.96,213.43 L138.53,213.43 L139.10,213.44 L139.67,213.44 L140.24,213.44 L140.81,213.45 L141.38,213.46 L141.95,213.46 L142.51,213.47 L143.08,213.48 L143.65,213.50 L144.22,213.51 L144.79,213.53 L145.36,213.55 L145.93,213.58 L146.50,213.61 L147.07,213.65 L147.63,213.69 L148.20,213.75 L148.77,213.81 L149.34,213.88 L149.91,213.96 L150.48,214.06 L151.05,214.17 L151.62,214.29 L152.18,214.44 L152.75,214.61 L153.32,214.81 L153.89,215.03 L154.46,215.28 L155.03,215.57 L155.60,215.89 L156.17,216.26 L156.73,216.68 L157.30,217.14 L157.87,217.66 L158.44,218.25 L159.01,218.90 L159.58,219.62 L160.15,220.42 L160.72,221.30 L161.29,222.27 L161.85,223.33 L162.42,224.50 L162.99,225.77 L163.56,227.16 L164.13,228.66 L164.70,230.28 L165.27,232.03 L165.84,233.91 L166.40,235.93 L166.97,238.08 L167.54,240.36 L168.11,242.79 L168.68,245.36 L169.25,248.06 L169.82,250.90 L170.39,253.87 L170.95,256.96 L171.52,260.18 L172.09,263.51 L172.66,266.94 L173.23,270.46 L173.80,274.06 L174.37,277.73 L174.94,281.45 L175.51,285.21 L176.07,288.98 L176.64,292.76 L177.21,296.51 L177.78,300.23 L178.35,303.88 L178.92,307.46 L179.49,310.93 L180.06,314.28 L180.62,317.48 L181.19,320.51 L181.76,323.36 L182.33,326.00 L182.90,328.42 L183.47,330.60 L184.04,332.52 L184.61,334.17 L185.17,335.53 L185.74,336.61 L186.31,337.38 L186.88,337.84 L187.45,338.00 L188.02,337.84 L188.59,337.38 L189.16,336.61 L189.73,335.53 L190.29,334.17 L190.86,332.52 L191.43,330.60 L192.00,328.42 L192.57,326.00 L193.14,323.36 L193.71,320.51 L194.28,317.48 L194.84,314.28 L195.41,310.93 L195.98,307.46 L196.55,303.88 L197.12,300.23 L197.69,296.51 L198.26,292.76 L198.83,288.98 L199.39,285.21 L199.96,281.45 L200.53,277.73 L201.10,274.06 L201.67,270.46 L202.24,266.94 L202.81,263.51 L203.38,260.18 L203.95,256.96 L204.51,253.87 L205.08,250.90 L205.65,248.06 L206.22,245.36 L206.79,242.79 L207.36,240.36 L207.93,238.08 L208.50,235.93 L209.06,233.91 L209.63,232.03 L210.20,230.28 L210.77,228.66 L211.34,227.16 L211.91,225.77 L212.48,224.50 L213.05,223.33 L213.61,222.27 L214.18,221.30 L214.75,220.42 L215.32,219.62 L215.89,218.90 L216.46,218.25 L217.03,217.66 L217.60,217.14 L218.17,216.68 L218.73,216.26 L219.30,215.89 L219.87,215.57 L220.44,215.28 L221.01,215.03 L221.58,214.81 L222.15,214.61 L222.72,214.44 L223.28,214.29 L223.85,214.17 L224.42,214.06 L224.99,213.96 L225.56,213.88 L226.13,213.81 L226.70,213.75 L227.27,213.69 L227.83,213.65 L228.40,213.61 L228.97,213.58 L229.54,213.55 L230.11,213.53 L230.68,213.51 L231.25,213.50 L231.82,213.48 L232.39,213.47 L232.95,213.46 L233.52,213.46 L234.09,213.45 L234.66,213.44 L235.23,213.44 L235.80,213.44 L236.37,213.43 L236.94,213.43 L237.50,213.43 L238.07,213.43 L238.64,213.43 L239.21,213.43 L239.78,213.43 L240.35,213.42 L240.92,213.42 L241.49,213.42 L242.05,213.42 L242.62,213.42 L243.19,213.42 L243.76,213.42 L244.33,213.42 L244.90,213.35 L245.47,213.28 L246.04,213.21 L246.61,213.14 L247.17,213.07 L247.74,213.00 L248.31,212.93 L248.88,212.86 L249.45,212.79 L250.02,212.71 L250.59,212.64 L251.16,212.57 L251.72,212.50 L252.29,212.43 L252.86,212.36 L253.43,212.29 L254.00,212.22 L254.57,212.15 L255.14,212.08 L255.71,212.01 L256.27,211.94 L256.84,211.87 L257.41,211.79 L257.98,211.72 L258.55,211.65 L259.12,211.58 L259.69,211.51 L260.26,211.44 L260.83,211.37 L261.39,211.30 L261.96,211.23 L262.53,211.16 L263.10,211.09 L263.67,211.02 L264.24,210.95 L264.81,210.88 L265.38,210.80 L265.94,210.73 L266.51,210.66 L267.08,210.59 L267.65,210.52 L268.22,210.45 L268.79,210.38 L269.36,210.31 L269.93,210.24 L270.49,210.17 L271.06,210.10 L271.63,210.03 L272.20,209.96 L272.77,209.88 L273.34,209.81 L273.91,209.74 L274.48,209.67 L275.05,209.60 L275.61,209.53 L276.18,209.46 L276.75,209.39 L277.32,209.32 L277.89,209.25 L278.46,209.18 L279.03,209.11 L279.60,209.04 L280.16,208.96 L280.73,208.89 L281.30,208.82 L281.87,208.75 L282.44,208.68 L283.01,208.61 L283.58,208.54 L284.15,208.47 L284.71,208.40 L285.28,208.33 L285.85,208.26 L286.42,208.19 L286.99,208.12 L287.56,208.05 L288.13,207.97 L288.70,207.90 L289.27,207.83 L289.83,207.76 L290.40,207.69 L290.97,207.62 L291.54,207.55 L292.11,207.48 L292.68,207.41 L293.25,207.34 L293.82,207.27 L294.38,207.20 L294.95,207.13 L295.52,207.05 L296.09,206.98 L296.66,206.91 L297.23,206.84 L297.80,206.77 L298.37,206.70 L298.93,206.63 L299.50,206.56 L300.07,206.49 L300.64,206.42 L301.21,206.35 L301.78,206.28 L302.35,206.21" stroke="#000" stroke-width="2.2"/>
<path d="M72.55,221.03 L73.12,221.00 L73.69,220.96 L74.26,220.92 L74.83,220.88 L75.40,220.85 L75.97,220.81 L76.53,220.77 L77.10,220.73 L77.67,220.69 L78.24,220.66 L78.81,220.62 L79.38,220.58 L79.95,220.54 L80.52,220.51 L81.08,220.47 L81.65,220.43 L82.22,220.39 L82.79,220.36 L83.36,220.32 L83.93,220.28 L84.50,220.24 L85.07,220.20 L85.63,220.17 L86.20,220.13 L86.77,220.09 L87.34,220.05 L87.91,220.02 L88.48,219.98 L89.05,219.94 L89.62,219.90 L90.19,219.87 L90.75,219.83 L91.32,219.79 L91.89,219.75 L92.46,219.71 L93.03,219.68 L93.60,219.64 L94.17,219.60 L94.74,219.56 L95.30,219.53 L95.87,219.49 L96.44,219.45 L97.01,219.41 L97.58,219.38 L98.15,219.34 L98.72,219.30 L99.29,219.26 L99.85,219.22 L100.42,219.19 L100.99,219.15 L101.56,219.11 L102.13,219.07 L102.70,219.04 L103.27,219.00 L103.84,218.96 L104.41,218.92 L104.97,218.89 L105.54,218.85 L106.11,218.81 L106.68,218.77 L107.25,218.74 L107.82,218.70 L108.39,218.66 L108.96,218.62 L109.52,218.58 L110.09,218.55 L110.66,218.51 L111.23,218.47 L111.80,218.43 L112.37,218.40 L112.94,218.36 L113.51,218.32 L114.07,218.28 L114.64,218.25 L115.21,218.21 L115.78,218.17 L116.35,218.13 L116.92,218.09 L117.49,218.06 L118.06,218.02 L118.63,217.98 L119.19,217.94 L119.76,217.91 L120.33,217.87 L120.90,217.83 L121.47,217.79 L122.04,217.76 L122.61,217.72 L123.18,217.68 L123.74,217.64 L124.31,217.60 L124.88,217.57 L125.45,217.53 L126.02,217.49 L126.59,217.45 L127.16,217.42 L127.73,217.38 L128.29,217.34 L128.86,217.30 L129.43,217.27 L130.00,217.23 L130.57,217.19 L131.14,217.15 L131.71,217.12 L132.28,217.08 L132.85,217.04 L133.41,217.00 L133.98,216.97 L134.55,216.93 L135.12,216.89 L135.69,216.85 L136.26,216.82 L136.83,216.78 L137.40,216.75 L137.96,216.71 L138.53,216.67 L139.10,216.64 L139.67,216.61 L140.24,216.57 L140.81,216.54 L141.38,216.51 L141.95,216.48 L142.51,216.45 L143.08,216.42 L143.65,216.40 L144.22,216.38 L144.79,216.36 L145.36,216.34 L145.93,216.33 L146.50,216.33 L147.07,216.33 L147.63,216.33 L148.20,216.35 L148.77,216.37 L149.34,216.40 L149.91,216.45 L150.48,216.50 L151.05,216.58 L151.62,216.67 L152.18,216.78 L152.75,216.91 L153.32,217.07 L153.89,217.25 L154.46,217.47 L155.03,217.72 L155.60,218.00 L156.17,218.33 L156.73,218.71 L157.30,219.14 L157.87,219.62 L158.44,220.17 L159.01,220.78 L159.58,221.46 L160.15,222.22 L160.72,223.07 L161.29,224.00 L161.85,225.03 L162.42,226.16 L162.99,227.39 L163.56,228.74 L164.13,230.20 L164.70,231.79 L165.27,233.50 L165.84,235.34 L166.40,237.32 L166.97,239.43 L167.54,241.68 L168.11,244.07 L168.68,246.60 L169.25,249.27 L169.82,252.07 L170.39,255.00 L170.95,258.05 L171.52,261.23 L172.09,264.52 L172.66,267.92 L173.23,271.40 L173.80,274.96 L174.37,278.60 L174.94,282.28 L175.51,286.00 L176.07,289.74 L176.64,293.47 L177.21,297.19 L177.78,300.87 L178.35,304.49 L178.92,308.02 L179.49,311.46 L180.06,314.77 L180.62,317.93 L181.19,320.93 L181.76,323.74 L182.33,326.34 L182.90,328.72 L183.47,330.86 L184.04,332.74 L184.61,334.36 L185.17,335.68 L185.74,336.72 L186.31,337.45 L186.88,337.88 L187.45,338.00 L188.02,337.81 L188.59,337.30 L189.16,336.49 L189.73,335.38 L190.29,333.98 L190.86,332.29 L191.43,330.33 L192.00,328.12 L192.57,325.66 L193.14,322.98 L193.71,320.10 L194.28,317.03 L194.84,313.79 L195.41,310.40 L195.98,306.89 L196.55,303.28 L197.12,299.59 L197.69,295.83 L198.26,292.04 L198.83,288.23 L199.39,284.42 L199.96,280.62 L200.53,276.86 L201.10,273.16 L201.67,269.52 L202.24,265.96 L202.81,262.49 L203.38,259.12 L203.95,255.87 L204.51,252.74 L205.08,249.73 L205.65,246.85 L206.22,244.11 L206.79,241.51 L207.36,239.05 L207.93,236.72 L208.50,234.53 L209.06,232.48 L209.63,230.56 L210.20,228.77 L210.77,227.11 L211.34,225.57 L211.91,224.15 L212.48,222.84 L213.05,221.64 L213.61,220.53 L214.18,219.53 L214.75,218.61 L215.32,217.77 L215.89,217.01 L216.46,216.32 L217.03,215.70 L217.60,215.14 L218.17,214.64 L218.73,214.19 L219.30,213.78 L219.87,213.42 L220.44,213.10 L221.01,212.80 L221.58,212.55 L222.15,212.31 L222.72,212.11 L223.28,211.92 L223.85,211.75 L224.42,211.61 L224.99,211.47 L225.56,211.35 L226.13,211.24 L226.70,211.15 L227.27,211.06 L227.83,210.98 L228.40,210.90 L228.97,210.83 L229.54,210.77 L230.11,210.71 L230.68,210.65 L231.25,210.60 L231.82,210.54 L232.39,210.50 L232.95,210.45 L233.52,210.40 L234.09,210.36 L234.66,210.32 L235.23,210.28 L235.80,210.23 L236.37,210.19 L236.94,210.15 L237.50,210.11 L238.07,210.07 L238.64,210.04 L239.21,210.00 L239.78,209.96 L240.35,209.92 L240.92,209.88 L241.49,209.84 L242.05,209.81 L242.62,209.77 L243.19,209.73 L243.76,209.69 L244.33,209.65 L244.90,209.62 L245.47,209.58 L246.04,209.54 L246.61,209.50 L247.17,209.47 L247.74,209.43 L248.31,209.39 L248.88,209.35 L249.45,209.31 L250.02,209.28 L250.59,209.24 L251.16,209.20 L251.72,209.16 L252.29,209.13 L252.86,209.09 L253.43,209.05 L254.00,209.01 L254.57,208.98 L255.14,208.94 L255.71,208.90 L256.27,208.86 L256.84,208.82 L257.41,208.79 L257.98,208.75 L258.55,208.71 L259.12,208.67 L259.69,208.64 L260.26,208.60 L260.83,208.56 L261.39,208.52 L261.96,208.49 L262.53,208.45 L263.10,208.41 L263.67,208.37 L264.24,208.34 L264.81,208.30 L265.38,208.26 L265.94,208.22 L266.51,208.18 L267.08,208.15 L267.65,208.11 L268.22,208.07 L268.79,208.03 L269.36,208.00 L269.93,207.96 L270.49,207.92 L271.06,207.88 L271.63,207.85 L272.20,207.81 L272.77,207.77 L273.34,207.73 L273.91,207.69 L274.48,207.66 L275.05,207.62 L275.61,207.58 L276.18,207.54 L276.75,207.51 L277.32,207.47 L277.89,207.43 L278.46,207.39 L279.03,207.36 L279.60,207.32 L280.16,207.28 L280.73,207.24 L281.30,207.20 L281.87,207.17 L282.44,207.13 L283.01,207.09 L283.58,207.05 L284.15,207.02 L284.71,206.98 L285.28,206.94 L285.85,206.90 L286.42,206.87 L286.99,206.83 L287.56,206.79 L288.13,206.75 L288.70,206.71 L289.27,206.68 L289.83,206.64 L290.40,206.60 L290.97,206.56 L291.54,206.53 L292.11,206.49 L292.68,206.45 L293.25,206.41 L293.82,206.38 L294.38,206.34 L294.95,206.30 L295.52,206.26 L296.09,206.22 L296.66,206.19 L297.23,206.15 L297.80,206.11 L298.37,206.07 L298.93,206.04 L299.50,206.00 L300.07,205.96 L300.64,205.92 L301.21,205.89 L301.78,205.85 L302.35,205.81" stroke="#ff0000" stroke-width="2.5" stroke-dasharray="6.0 2.1"/>
</g>
<path d="M73.69,345.55 v-3.00 M73.69,199.40 v3.00 M130.57,345.55 v-3.00 M130.57,199.40 v3.00 M187.45,345.55 v-3.00 M187.45,199.40 v3.00 M244.33,345.55 v-3.00 M244.33,199.40 v3.00 M301.21,345.55 v-3.00 M301.21,199.40 v3.00 M73.69,345.55 v-2.00 M73.69,199.40 v2.00 M85.07,345.55 v-2.00 M85.07,199.40 v2.00 M96.44,345.55 v-2.00 M96.44,199.40 v2.00 M107.82,345.55 v-2.00 M107.82,199.40 v2.00 M119.19,345.55 v-2.00 M119.19,199.40 v2.00 M130.57,345.55 v-2.00 M130.57,199.40 v2.00 M141.95,345.55 v-2.00 M141.95,199.40 v2.00 M153.32,345.55 v-2.00 M153.32,199.40 v2.00 M164.70,345.55 v-2.00 M164.70,199.40 v2.00 M176.07,345.55 v-2.00 M176.07,199.40 v2.00 M187.45,345.55 v-2.00 M187.45,199.40 v2.00 M198.83,345.55 v-2.00 M198.83,199.40 v2.00 M210.20,345.55 v-2.00 M210.20,199.40 v2.00 M221.58,345.55 v-2.00 M221.58,199.40 v2.00 M232.95,345.55 v-2.00 M232.95,199.40 v2.00 M244.33,345.55 v-2.00 M244.33,199.40 v2.00 M255.71,345.55 v-2.00 M255.71,199.40 v2.00 M267.08,345.55 v-2.00 M267.08,199.40 v2.00 M278.46,345.55 v-2.00 M278.46,199.40 v2.00 M289.83,345.55 v-2.00 M289.83,199.40 v2.00 M301.21,345.55 v-2.00 M301.21,199.40 v2.00 M69.20,338.00 h3.00 M306.10,338.00 h-3.00 M69.20,299.55 h3.00 M306.10,299.55 h-3.00 M69.20,261.10 h3.00 M306.10,261.10 h-3.00 M69.20,222.65 h3.00 M306.10,222.65 h-3.00 M69.20,338.00 h2.00 M306.10,338.00 h-2.00 M69.20,330.31 h2.00 M306.10,330.31 h-2.00 M69.20,322.62 h2.00 M306.10,322.62 h-2.00 M69.20,314.93 h2.00 M306.10,314.93 h-2.00 M69.20,307.24 h2.00 M306.10,307.24 h-2.00 M69.20,299.55 h2.00 M306.10,299.55 h-2.00 M69.20,291.86 h2.00 M306.10,291.86 h-2.00 M69.20,284.17 h2.00 M306.10,284.17 h-2.00 M69.20,276.48 h2.00 M306.10,276.48 h-2.00 M69.20,268.79 h2.00 M306.10,268.79 h-2.00 M69.20,261.10 h2.00 M306.10,261.10 h-2.00 M69.20,253.41 h2.00 M306.10,253.41 h-2.00 M69.20,245.72 h2.00 M306.10,245.72 h-2.00 M69.20,238.03 h2.00 M306.10,238.03 h-2.00 M69.20,230.34 h2.00 M306.10,230.34 h-2.00 M69.20,222.65 h2.00 M306.10,222.65 h-2.00 M69.20,214.96 h2.00 M306.10,214.96 h-2.00 M69.20,207.27 h2.00 M306.10,207.27 h-2.00" stroke="#000" stroke-width="1.45" fill="none"/>
<rect x="69.20" y="199.40" width="236.90" height="146.15" fill="none" stroke="#000" stroke-width="2.15"/>
<rect x="53.61" y="358.45" width="10.10" height="2.10" fill="#000"/>
<text x="66.31" y="364.60" font-size="18.3">200</text>
<rect x="110.49" y="358.45" width="10.10" height="2.10" fill="#000"/>
<text x="123.19" y="364.60" font-size="18.3">100</text>
<text x="187.45" y="364.60" text-anchor="middle" font-size="18.3">0</text>
<text x="244.33" y="364.60" text-anchor="middle" font-size="18.3">100</text>
<text x="301.21" y="364.60" text-anchor="middle" font-size="18.3">200</text>
<text x="65.50" y="343.90" text-anchor="end" font-size="18.3">0</text>
<text x="65.50" y="305.45" text-anchor="end" font-size="18.3">5</text>
<text x="65.50" y="267.00" text-anchor="end" font-size="18.3">10</text>
<text x="65.50" y="228.55" text-anchor="end" font-size="18.3">15</text>
<clipPath id="cd"><rect x="369.10" y="199.40" width="237.30" height="146.10"/></clipPath>
<g clip-path="url(#cd)" fill="none" stroke-linejoin="round">
<path d="M373.32,-110.59 L373.89,-108.51 L374.46,-106.44 L375.03,-104.36 L375.61,-102.27 L376.18,-100.19 L376.75,-98.10 L377.32,-96.01 L377.90,-93.92 L378.47,-91.83 L379.04,-89.73 L379.61,-87.63 L380.19,-85.53 L380.76,-83.42 L381.33,-81.32 L381.90,-79.21 L382.48,-77.09 L383.05,-74.98 L383.62,-72.86 L384.19,-70.74 L384.77,-68.61 L385.34,-66.49 L385.91,-64.36 L386.48,-62.23 L387.06,-60.09 L387.63,-57.95 L388.20,-55.81 L388.77,-53.67 L389.34,-51.52 L389.92,-49.37 L390.49,-47.21 L391.06,-45.06 L391.63,-42.90 L392.21,-40.73 L392.78,-38.57 L393.35,-36.40 L393.92,-34.23 L394.50,-32.05 L395.07,-29.87 L395.64,-27.69 L396.21,-25.50 L396.79,-23.31 L397.36,-21.12 L397.93,-18.93 L398.50,-16.73 L399.08,-14.52 L399.65,-12.32 L400.22,-10.11 L400.79,-7.89 L401.37,-5.68 L401.94,-3.46 L402.51,-1.23 L403.08,0.99 L403.66,3.22 L404.23,5.46 L404.80,7.70 L405.37,9.94 L405.94,12.18 L406.52,14.43 L407.09,16.69 L407.66,18.94 L408.23,21.20 L408.81,23.47 L409.38,25.74 L409.95,28.01 L410.52,30.28 L411.10,32.56 L411.67,34.85 L412.24,37.13 L412.81,39.43 L413.39,41.72 L413.96,44.02 L414.53,46.32 L415.10,48.63 L415.68,50.94 L416.25,53.25 L416.82,55.57 L417.39,57.89 L417.97,60.22 L418.54,62.55 L419.11,64.88 L419.68,67.22 L420.26,69.56 L420.83,71.90 L421.40,74.25 L421.97,76.60 L422.54,78.96 L423.12,81.32 L423.69,83.68 L424.26,86.05 L424.83,88.42 L425.41,90.79 L425.98,93.17 L426.55,95.55 L427.12,97.93 L427.70,100.32 L428.27,102.71 L428.84,105.11 L429.41,107.51 L429.99,109.91 L430.56,112.31 L431.13,114.72 L431.70,117.13 L432.28,119.54 L432.85,121.96 L433.42,124.38 L433.99,126.80 L434.57,129.22 L435.14,131.65 L435.71,134.08 L436.28,136.51 L436.86,138.94 L437.43,141.38 L438.00,143.82 L438.57,146.26 L439.14,148.70 L439.72,151.14 L440.29,153.59 L440.86,156.04 L441.43,158.49 L442.01,160.93 L442.58,163.38 L443.15,165.84 L443.72,168.29 L444.30,170.74 L444.87,173.19 L445.44,175.65 L446.01,178.10 L446.59,180.55 L447.16,183.01 L447.73,185.46 L448.30,187.91 L448.88,190.36 L449.45,192.81 L450.02,195.26 L450.59,197.71 L451.17,200.15 L451.74,202.60 L452.31,205.04 L452.88,207.48 L453.46,209.91 L454.03,212.35 L454.60,214.78 L455.17,217.20 L455.74,219.63 L456.32,222.05 L456.89,224.46 L457.46,226.87 L458.03,229.28 L458.61,231.68 L459.18,234.08 L459.75,236.47 L460.32,238.86 L460.90,241.23 L461.47,243.61 L462.04,245.97 L462.61,248.33 L463.19,250.69 L463.76,253.03 L464.33,255.37 L464.90,257.70 L465.48,260.02 L466.05,262.33 L466.62,264.64 L467.19,266.93 L467.77,269.22 L468.34,271.49 L468.91,273.76 L469.48,276.02 L470.06,278.26 L470.63,280.49 L471.20,282.72 L471.77,284.93 L472.34,287.13 L472.92,289.32 L473.49,291.49 L474.06,293.65 L474.63,295.80 L475.21,297.94 L475.78,300.06 L476.35,302.17 L476.92,304.27 L477.50,306.35 L478.07,308.41 L478.64,310.46 L479.21,312.50 L479.79,314.52 L480.36,316.52 L480.93,318.50 L481.50,320.47 L482.08,322.41 L482.65,324.34 L483.22,326.24 L483.79,328.11 L484.37,329.95 L484.94,331.74 L485.51,333.47 L486.08,335.10 L486.66,336.56 L487.23,337.66 L487.80,338.10 L488.37,337.66 L488.94,336.56 L489.52,335.10 L490.09,333.47 L490.66,331.74 L491.23,329.95 L491.81,328.11 L492.38,326.24 L492.95,324.34 L493.52,322.41 L494.10,320.47 L494.67,318.50 L495.24,316.52 L495.81,314.52 L496.39,312.50 L496.96,310.46 L497.53,308.41 L498.10,306.35 L498.68,304.27 L499.25,302.17 L499.82,300.06 L500.39,297.94 L500.97,295.80 L501.54,293.65 L502.11,291.49 L502.68,289.32 L503.26,287.13 L503.83,284.93 L504.40,282.72 L504.97,280.49 L505.54,278.26 L506.12,276.02 L506.69,273.76 L507.26,271.49 L507.83,269.22 L508.41,266.93 L508.98,264.64 L509.55,262.33 L510.12,260.02 L510.70,257.70 L511.27,255.37 L511.84,253.03 L512.41,250.69 L512.99,248.33 L513.56,245.97 L514.13,243.61 L514.70,241.23 L515.28,238.86 L515.85,236.47 L516.42,234.08 L516.99,231.68 L517.57,229.28 L518.14,226.87 L518.71,224.46 L519.28,222.05 L519.86,219.63 L520.43,217.20 L521.00,214.78 L521.57,212.35 L522.14,209.91 L522.72,207.48 L523.29,205.04 L523.86,202.60 L524.43,200.15 L525.01,197.71 L525.58,195.26 L526.15,192.81 L526.72,190.36 L527.30,187.91 L527.87,185.46 L528.44,183.01 L529.01,180.55 L529.59,178.10 L530.16,175.65 L530.73,173.19 L531.30,170.74 L531.88,168.29 L532.45,165.84 L533.02,163.38 L533.59,160.93 L534.17,158.49 L534.74,156.04 L535.31,153.59 L535.88,151.14 L536.46,148.70 L537.03,146.26 L537.60,143.82 L538.17,141.38 L538.74,138.94 L539.32,136.51 L539.89,134.08 L540.46,131.65 L541.03,129.22 L541.61,126.80 L542.18,124.38 L542.75,121.96 L543.32,119.54 L543.90,117.13 L544.47,114.72 L545.04,112.31 L545.61,109.91 L546.19,107.51 L546.76,105.11 L547.33,102.71 L547.90,100.32 L548.48,97.93 L549.05,95.55 L549.62,93.17 L550.19,90.79 L550.77,88.42 L551.34,86.05 L551.91,83.68 L552.48,81.32 L553.06,78.96 L553.63,76.60 L554.20,74.25 L554.77,71.90 L555.34,69.56 L555.92,67.22 L556.49,64.88 L557.06,62.55 L557.63,60.22 L558.21,57.89 L558.78,55.57 L559.35,53.25 L559.92,50.94 L560.50,48.63 L561.07,46.32 L561.64,44.02 L562.21,41.72 L562.79,39.43 L563.36,37.13 L563.93,34.85 L564.50,32.56 L565.08,30.28 L565.65,28.01 L566.22,25.74 L566.79,23.47 L567.37,21.20 L567.94,18.94 L568.51,16.69 L569.08,14.43 L569.66,12.18 L570.23,9.94 L570.80,7.70 L571.37,5.46 L571.94,3.22 L572.52,0.99 L573.09,-1.23 L573.66,-3.46 L574.23,-5.68 L574.81,-7.89 L575.38,-10.11 L575.95,-12.32 L576.52,-14.52 L577.10,-16.73 L577.67,-18.93 L578.24,-21.12 L578.81,-23.31 L579.39,-25.50 L579.96,-27.69 L580.53,-29.87 L581.10,-32.05 L581.68,-34.23 L582.25,-36.40 L582.82,-38.57 L583.39,-40.73 L583.97,-42.90 L584.54,-45.06 L585.11,-47.21 L585.68,-49.37 L586.26,-51.52 L586.83,-53.67 L587.40,-55.81 L587.97,-57.95 L588.54,-60.09 L589.12,-62.23 L589.69,-64.36 L590.26,-66.49 L590.83,-68.61 L591.41,-70.74 L591.98,-72.86 L592.55,-74.98 L593.12,-77.09 L593.70,-79.21 L594.27,-81.32 L594.84,-83.42 L595.41,-85.53 L595.99,-87.63 L596.56,-89.73 L597.13,-91.83 L597.70,-93.92 L598.28,-96.01 L598.85,-98.10 L599.42,-100.19 L599.99,-102.27 L600.57,-104.36 L601.14,-106.44 L601.71,-108.51 L602.28,-110.59" stroke="#000" stroke-width="2.2"/>
<path d="M373.32,-79.83 L373.89,-77.77 L374.46,-75.70 L375.03,-73.63 L375.61,-71.56 L376.18,-69.48 L376.75,-67.40 L377.32,-65.32 L377.90,-63.24 L378.47,-61.16 L379.04,-59.07 L379.61,-56.98 L380.19,-54.89 L380.76,-52.79 L381.33,-50.70 L381.90,-48.60 L382.48,-46.49 L383.05,-44.39 L383.62,-42.28 L384.19,-40.17 L384.77,-38.06 L385.34,-35.94 L385.91,-33.82 L386.48,-31.70 L387.06,-29.58 L387.63,-27.45 L388.20,-25.32 L388.77,-23.19 L389.34,-21.05 L389.92,-18.91 L390.49,-16.77 L391.06,-14.63 L391.63,-12.48 L392.21,-10.33 L392.78,-8.17 L393.35,-6.02 L393.92,-3.86 L394.50,-1.70 L395.07,0.47 L395.64,2.64 L396.21,4.81 L396.79,6.99 L397.36,9.16 L397.93,11.35 L398.50,13.53 L399.08,15.72 L399.65,17.91 L400.22,20.11 L400.79,22.30 L401.37,24.51 L401.94,26.71 L402.51,28.92 L403.08,31.13 L403.66,33.34 L404.23,35.56 L404.80,37.78 L405.37,40.01 L405.94,42.24 L406.52,44.47 L407.09,46.71 L407.66,48.95 L408.23,51.19 L408.81,53.43 L409.38,55.68 L409.95,57.94 L410.52,60.19 L411.10,62.45 L411.67,64.72 L412.24,66.98 L412.81,69.25 L413.39,71.53 L413.96,73.81 L414.53,76.09 L415.10,78.37 L415.68,80.66 L416.25,82.95 L416.82,85.25 L417.39,87.55 L417.97,89.85 L418.54,92.16 L419.11,94.46 L419.68,96.78 L420.26,99.09 L420.83,101.41 L421.40,103.73 L421.97,106.06 L422.54,108.39 L423.12,110.72 L423.69,113.06 L424.26,115.40 L424.83,117.74 L425.41,120.08 L425.98,122.43 L426.55,124.78 L427.12,127.14 L427.70,129.49 L428.27,131.85 L428.84,134.21 L429.41,136.58 L429.99,138.95 L430.56,141.32 L431.13,143.69 L431.70,146.06 L432.28,148.44 L432.85,150.82 L433.42,153.20 L433.99,155.58 L434.57,157.97 L435.14,160.36 L435.71,162.74 L436.28,165.13 L436.86,167.53 L437.43,169.92 L438.00,172.31 L438.57,174.71 L439.14,177.10 L439.72,179.50 L440.29,181.89 L440.86,184.29 L441.43,186.69 L442.01,189.08 L442.58,191.48 L443.15,193.88 L443.72,196.27 L444.30,198.67 L444.87,201.06 L445.44,203.45 L446.01,205.84 L446.59,208.23 L447.16,210.62 L447.73,213.01 L448.30,215.39 L448.88,217.77 L449.45,220.14 L450.02,222.52 L450.59,224.89 L451.17,227.25 L451.74,229.61 L452.31,231.97 L452.88,234.32 L453.46,236.67 L454.03,239.01 L454.60,241.34 L455.17,243.67 L455.74,245.99 L456.32,248.31 L456.89,250.62 L457.46,252.91 L458.03,255.20 L458.61,257.49 L459.18,259.76 L459.75,262.02 L460.32,264.27 L460.90,266.51 L461.47,268.74 L462.04,270.95 L462.61,273.16 L463.19,275.35 L463.76,277.52 L464.33,279.69 L464.90,281.83 L465.48,283.96 L466.05,286.07 L466.62,288.17 L467.19,290.24 L467.77,292.30 L468.34,294.34 L468.91,296.35 L469.48,298.34 L470.06,300.31 L470.63,302.25 L471.20,304.17 L471.77,306.06 L472.34,307.92 L472.92,309.75 L473.49,311.54 L474.06,313.31 L474.63,315.03 L475.21,316.72 L475.78,318.37 L476.35,319.97 L476.92,321.53 L477.50,323.04 L478.07,324.50 L478.64,325.91 L479.21,327.26 L479.79,328.55 L480.36,329.77 L480.93,330.93 L481.50,332.01 L482.08,333.02 L482.65,333.95 L483.22,334.79 L483.79,335.55 L484.37,336.21 L484.94,336.78 L485.51,337.25 L486.08,337.62 L486.66,337.89 L487.23,338.05 L487.80,338.10 L488.37,338.05 L488.94,337.89 L489.52,337.62 L490.09,337.25 L490.66,336.78 L491.23,336.21 L491.81,335.55 L492.38,334.79 L492.95,333.95 L493.52,333.02 L494.10,332.01 L494.67,330.93 L495.24,329.77 L495.81,328.55 L496.39,327.26 L496.96,325.91 L497.53,324.50 L498.10,323.04 L498.68,321.53 L499.25,319.97 L499.82,318.37 L500.39,316.72 L500.97,315.03 L501.54,313.31 L502.11,311.54 L502.68,309.75 L503.26,307.92 L503.83,306.06 L504.40,304.17 L504.97,302.25 L505.54,300.31 L506.12,298.34 L506.69,296.35 L507.26,294.34 L507.83,292.30 L508.41,290.24 L508.98,288.17 L509.55,286.07 L510.12,283.96 L510.70,281.83 L511.27,279.69 L511.84,277.52 L512.41,275.35 L512.99,273.16 L513.56,270.95 L514.13,268.74 L514.70,266.51 L515.28,264.27 L515.85,262.02 L516.42,259.76 L516.99,257.49 L517.57,255.20 L518.14,252.91 L518.71,250.62 L519.28,248.31 L519.86,245.99 L520.43,243.67 L521.00,241.34 L521.57,239.01 L522.14,236.67 L522.72,234.32 L523.29,231.97 L523.86,229.61 L524.43,227.25 L525.01,224.89 L525.58,222.52 L526.15,220.14 L526.72,217.77 L527.30,215.39 L527.87,213.01 L528.44,210.62 L529.01,208.23 L529.59,205.84 L530.16,203.45 L530.73,201.06 L531.30,198.67 L531.88,196.27 L532.45,193.88 L533.02,191.48 L533.59,189.08 L534.17,186.69 L534.74,184.29 L535.31,181.89 L535.88,179.50 L536.46,177.10 L537.03,174.71 L537.60,172.31 L538.17,169.92 L538.74,167.53 L539.32,165.13 L539.89,162.74 L540.46,160.36 L541.03,157.97 L541.61,155.58 L542.18,153.20 L542.75,150.82 L543.32,148.44 L543.90,146.06 L544.47,143.69 L545.04,141.32 L545.61,138.95 L546.19,136.58 L546.76,134.21 L547.33,131.85 L547.90,129.49 L548.48,127.14 L549.05,124.78 L549.62,122.43 L550.19,120.08 L550.77,117.74 L551.34,115.40 L551.91,113.06 L552.48,110.72 L553.06,108.39 L553.63,106.06 L554.20,103.73 L554.77,101.41 L555.34,99.09 L555.92,96.78 L556.49,94.46 L557.06,92.16 L557.63,89.85 L558.21,87.55 L558.78,85.25 L559.35,82.95 L559.92,80.66 L560.50,78.37 L561.07,76.09 L561.64,73.81 L562.21,71.53 L562.79,69.25 L563.36,66.98 L563.93,64.72 L564.50,62.45 L565.08,60.19 L565.65,57.94 L566.22,55.68 L566.79,53.43 L567.37,51.19 L567.94,48.95 L568.51,46.71 L569.08,44.47 L569.66,42.24 L570.23,40.01 L570.80,37.78 L571.37,35.56 L571.94,33.34 L572.52,31.13 L573.09,28.92 L573.66,26.71 L574.23,24.51 L574.81,22.30 L575.38,20.11 L575.95,17.91 L576.52,15.72 L577.10,13.53 L577.67,11.35 L578.24,9.16 L578.81,6.99 L579.39,4.81 L579.96,2.64 L580.53,0.47 L581.10,-1.70 L581.68,-3.86 L582.25,-6.02 L582.82,-8.17 L583.39,-10.33 L583.97,-12.48 L584.54,-14.63 L585.11,-16.77 L585.68,-18.91 L586.26,-21.05 L586.83,-23.19 L587.40,-25.32 L587.97,-27.45 L588.54,-29.58 L589.12,-31.70 L589.69,-33.82 L590.26,-35.94 L590.83,-38.06 L591.41,-40.17 L591.98,-42.28 L592.55,-44.39 L593.12,-46.49 L593.70,-48.60 L594.27,-50.70 L594.84,-52.79 L595.41,-54.89 L595.99,-56.98 L596.56,-59.07 L597.13,-61.16 L597.70,-63.24 L598.28,-65.32 L598.85,-67.40 L599.42,-69.48 L599.99,-71.56 L600.57,-73.63 L601.14,-75.70 L601.71,-77.77 L602.28,-79.83" stroke="#0000ff" stroke-width="2.2"/>
<path d="M373.32,101.31 L373.89,102.84 L374.46,104.36 L375.03,105.89 L375.61,107.41 L376.18,108.93 L376.75,110.45 L377.32,111.97 L377.90,113.49 L378.47,115.01 L379.04,116.53 L379.61,118.04 L380.19,119.56 L380.76,121.07 L381.33,122.59 L381.90,124.10 L382.48,125.61 L383.05,127.12 L383.62,128.63 L384.19,130.14 L384.77,131.65 L385.34,133.16 L385.91,134.66 L386.48,136.17 L387.06,137.67 L387.63,139.18 L388.20,140.68 L388.77,142.18 L389.34,143.68 L389.92,145.18 L390.49,146.68 L391.06,148.18 L391.63,149.68 L392.21,151.17 L392.78,152.67 L393.35,154.16 L393.92,155.66 L394.50,157.15 L395.07,158.64 L395.64,160.13 L396.21,161.62 L396.79,163.11 L397.36,164.59 L397.93,166.08 L398.50,167.57 L399.08,169.05 L399.65,170.53 L400.22,172.02 L400.79,173.50 L401.37,174.98 L401.94,176.46 L402.51,177.93 L403.08,179.41 L403.66,180.89 L404.23,182.36 L404.80,183.84 L405.37,185.31 L405.94,186.78 L406.52,188.25 L407.09,189.72 L407.66,191.19 L408.23,192.65 L408.81,194.12 L409.38,195.58 L409.95,197.04 L410.52,198.50 L411.10,199.96 L411.67,201.42 L412.24,202.88 L412.81,204.33 L413.39,205.79 L413.96,207.24 L414.53,208.69 L415.10,210.14 L415.68,211.59 L416.25,213.04 L416.82,214.48 L417.39,215.92 L417.97,217.36 L418.54,218.80 L419.11,220.24 L419.68,221.68 L420.26,223.11 L420.83,224.54 L421.40,225.97 L421.97,227.40 L422.54,228.82 L423.12,230.25 L423.69,231.67 L424.26,233.09 L424.83,234.50 L425.41,235.92 L425.98,237.33 L426.55,238.73 L427.12,240.14 L427.70,241.54 L428.27,242.94 L428.84,244.34 L429.41,245.73 L429.99,247.12 L430.56,248.51 L431.13,249.90 L431.70,251.28 L432.28,252.65 L432.85,254.03 L433.42,255.40 L433.99,256.76 L434.57,258.13 L435.14,259.48 L435.71,260.84 L436.28,262.19 L436.86,263.53 L437.43,264.87 L438.00,266.20 L438.57,267.54 L439.14,268.86 L439.72,270.18 L440.29,271.49 L440.86,272.80 L441.43,274.11 L442.01,275.40 L442.58,276.69 L443.15,277.98 L443.72,279.26 L444.30,280.53 L444.87,281.79 L445.44,283.05 L446.01,284.30 L446.59,285.54 L447.16,286.78 L447.73,288.00 L448.30,289.22 L448.88,290.43 L449.45,291.64 L450.02,292.83 L450.59,294.01 L451.17,295.19 L451.74,296.35 L452.31,297.51 L452.88,298.65 L453.46,299.79 L454.03,300.91 L454.60,302.02 L455.17,303.12 L455.74,304.21 L456.32,305.29 L456.89,306.36 L457.46,307.41 L458.03,308.45 L458.61,309.48 L459.18,310.50 L459.75,311.50 L460.32,312.49 L460.90,313.46 L461.47,314.42 L462.04,315.37 L462.61,316.30 L463.19,317.21 L463.76,318.11 L464.33,318.99 L464.90,319.86 L465.48,320.71 L466.05,321.54 L466.62,322.36 L467.19,323.16 L467.77,323.94 L468.34,324.70 L468.91,325.44 L469.48,326.17 L470.06,326.88 L470.63,327.57 L471.20,328.23 L471.77,328.88 L472.34,329.51 L472.92,330.12 L473.49,330.71 L474.06,331.27 L474.63,331.82 L475.21,332.34 L475.78,332.84 L476.35,333.32 L476.92,333.78 L477.50,334.22 L478.07,334.63 L478.64,335.03 L479.21,335.39 L479.79,335.74 L480.36,336.06 L480.93,336.36 L481.50,336.64 L482.08,336.89 L482.65,337.12 L483.22,337.33 L483.79,337.51 L484.37,337.66 L484.94,337.80 L485.51,337.91 L486.08,337.99 L486.66,338.05 L487.23,338.09 L487.80,338.10 L488.37,338.09 L488.94,338.05 L489.52,337.99 L490.09,337.91 L490.66,337.80 L491.23,337.66 L491.81,337.51 L492.38,337.33 L492.95,337.12 L493.52,336.89 L494.10,336.64 L494.67,336.36 L495.24,336.06 L495.81,335.74 L496.39,335.39 L496.96,335.03 L497.53,334.63 L498.10,334.22 L498.68,333.78 L499.25,333.32 L499.82,332.84 L500.39,332.34 L500.97,331.82 L501.54,331.27 L502.11,330.71 L502.68,330.12 L503.26,329.51 L503.83,328.88 L504.40,328.23 L504.97,327.57 L505.54,326.88 L506.12,326.17 L506.69,325.44 L507.26,324.70 L507.83,323.94 L508.41,323.16 L508.98,322.36 L509.55,321.54 L510.12,320.71 L510.70,319.86 L511.27,318.99 L511.84,318.11 L512.41,317.21 L512.99,316.30 L513.56,315.37 L514.13,314.42 L514.70,313.46 L515.28,312.49 L515.85,311.50 L516.42,310.50 L516.99,309.48 L517.57,308.45 L518.14,307.41 L518.71,306.36 L519.28,305.29 L519.86,304.21 L520.43,303.12 L521.00,302.02 L521.57,300.91 L522.14,299.79 L522.72,298.65 L523.29,297.51 L523.86,296.35 L524.43,295.19 L525.01,294.01 L525.58,292.83 L526.15,291.64 L526.72,290.43 L527.30,289.22 L527.87,288.00 L528.44,286.78 L529.01,285.54 L529.59,284.30 L530.16,283.05 L530.73,281.79 L531.30,280.53 L531.88,279.26 L532.45,277.98 L533.02,276.69 L533.59,275.40 L534.17,274.11 L534.74,272.80 L535.31,271.49 L535.88,270.18 L536.46,268.86 L537.03,267.54 L537.60,266.20 L538.17,264.87 L538.74,263.53 L539.32,262.19 L539.89,260.84 L540.46,259.48 L541.03,258.13 L541.61,256.76 L542.18,255.40 L542.75,254.03 L543.32,252.65 L543.90,251.28 L544.47,249.90 L545.04,248.51 L545.61,247.12 L546.19,245.73 L546.76,244.34 L547.33,242.94 L547.90,241.54 L548.48,240.14 L549.05,238.73 L549.62,237.33 L550.19,235.92 L550.77,234.50 L551.34,233.09 L551.91,231.67 L552.48,230.25 L553.06,228.82 L553.63,227.40 L554.20,225.97 L554.77,224.54 L555.34,223.11 L555.92,221.68 L556.49,220.24 L557.06,218.80 L557.63,217.36 L558.21,215.92 L558.78,214.48 L559.35,213.04 L559.92,211.59 L560.50,210.14 L561.07,208.69 L561.64,207.24 L562.21,205.79 L562.79,204.33 L563.36,202.88 L563.93,201.42 L564.50,199.96 L565.08,198.50 L565.65,197.04 L566.22,195.58 L566.79,194.12 L567.37,192.65 L567.94,191.19 L568.51,189.72 L569.08,188.25 L569.66,186.78 L570.23,185.31 L570.80,183.84 L571.37,182.36 L571.94,180.89 L572.52,179.41 L573.09,177.93 L573.66,176.46 L574.23,174.98 L574.81,173.50 L575.38,172.02 L575.95,170.53 L576.52,169.05 L577.10,167.57 L577.67,166.08 L578.24,164.59 L578.81,163.11 L579.39,161.62 L579.96,160.13 L580.53,158.64 L581.10,157.15 L581.68,155.66 L582.25,154.16 L582.82,152.67 L583.39,151.17 L583.97,149.68 L584.54,148.18 L585.11,146.68 L585.68,145.18 L586.26,143.68 L586.83,142.18 L587.40,140.68 L587.97,139.18 L588.54,137.67 L589.12,136.17 L589.69,134.66 L590.26,133.16 L590.83,131.65 L591.41,130.14 L591.98,128.63 L592.55,127.12 L593.12,125.61 L593.70,124.10 L594.27,122.59 L594.84,121.07 L595.41,119.56 L595.99,118.04 L596.56,116.53 L597.13,115.01 L597.70,113.49 L598.28,111.97 L598.85,110.45 L599.42,108.93 L599.99,107.41 L600.57,105.89 L601.14,104.36 L601.71,102.84 L602.28,101.31" stroke="#00ff00" stroke-width="2.2"/>
<path d="M373.32,249.42 L373.89,249.67 L374.46,249.93 L375.03,250.19 L375.61,250.46 L376.18,250.72 L376.75,250.99 L377.32,251.26 L377.90,251.54 L378.47,251.81 L379.04,252.09 L379.61,252.37 L380.19,252.66 L380.76,252.95 L381.33,253.23 L381.90,253.53 L382.48,253.82 L383.05,254.12 L383.62,254.42 L384.19,254.72 L384.77,255.03 L385.34,255.34 L385.91,255.65 L386.48,255.96 L387.06,256.28 L387.63,256.60 L388.20,256.93 L388.77,257.25 L389.34,257.58 L389.92,257.92 L390.49,258.25 L391.06,258.59 L391.63,258.93 L392.21,259.28 L392.78,259.63 L393.35,259.98 L393.92,260.33 L394.50,260.69 L395.07,261.05 L395.64,261.42 L396.21,261.78 L396.79,262.15 L397.36,262.53 L397.93,262.91 L398.50,263.29 L399.08,263.67 L399.65,264.06 L400.22,264.45 L400.79,264.85 L401.37,265.25 L401.94,265.65 L402.51,266.06 L403.08,266.47 L403.66,266.88 L404.23,267.30 L404.80,267.72 L405.37,268.14 L405.94,268.57 L406.52,269.00 L407.09,269.44 L407.66,269.87 L408.23,270.32 L408.81,270.76 L409.38,271.21 L409.95,271.67 L410.52,272.13 L411.10,272.59 L411.67,273.05 L412.24,273.52 L412.81,274.00 L413.39,274.47 L413.96,274.95 L414.53,275.44 L415.10,275.93 L415.68,276.42 L416.25,276.92 L416.82,277.42 L417.39,277.92 L417.97,278.43 L418.54,278.94 L419.11,279.45 L419.68,279.97 L420.26,280.50 L420.83,281.02 L421.40,281.55 L421.97,282.09 L422.54,282.63 L423.12,283.17 L423.69,283.71 L424.26,284.26 L424.83,284.81 L425.41,285.37 L425.98,285.93 L426.55,286.49 L427.12,287.06 L427.70,287.63 L428.27,288.20 L428.84,288.78 L429.41,289.36 L429.99,289.94 L430.56,290.53 L431.13,291.12 L431.70,291.71 L432.28,292.31 L432.85,292.91 L433.42,293.51 L433.99,294.11 L434.57,294.72 L435.14,295.33 L435.71,295.94 L436.28,296.56 L436.86,297.17 L437.43,297.79 L438.00,298.41 L438.57,299.03 L439.14,299.66 L439.72,300.28 L440.29,300.91 L440.86,301.54 L441.43,302.17 L442.01,302.80 L442.58,303.44 L443.15,304.07 L443.72,304.71 L444.30,305.34 L444.87,305.98 L445.44,306.61 L446.01,307.25 L446.59,307.88 L447.16,308.52 L447.73,309.15 L448.30,309.79 L448.88,310.42 L449.45,311.06 L450.02,311.69 L450.59,312.32 L451.17,312.95 L451.74,313.57 L452.31,314.20 L452.88,314.82 L453.46,315.44 L454.03,316.05 L454.60,316.67 L455.17,317.28 L455.74,317.88 L456.32,318.49 L456.89,319.09 L457.46,319.68 L458.03,320.27 L458.61,320.86 L459.18,321.44 L459.75,322.01 L460.32,322.58 L460.90,323.14 L461.47,323.70 L462.04,324.25 L462.61,324.79 L463.19,325.33 L463.76,325.86 L464.33,326.38 L464.90,326.90 L465.48,327.40 L466.05,327.90 L466.62,328.39 L467.19,328.87 L467.77,329.34 L468.34,329.80 L468.91,330.25 L469.48,330.69 L470.06,331.12 L470.63,331.54 L471.20,331.95 L471.77,332.35 L472.34,332.73 L472.92,333.11 L473.49,333.47 L474.06,333.82 L474.63,334.16 L475.21,334.48 L475.78,334.80 L476.35,335.10 L476.92,335.38 L477.50,335.66 L478.07,335.92 L478.64,336.16 L479.21,336.39 L479.79,336.61 L480.36,336.81 L480.93,337.00 L481.50,337.18 L482.08,337.34 L482.65,337.48 L483.22,337.61 L483.79,337.72 L484.37,337.82 L484.94,337.91 L485.51,337.98 L486.08,338.03 L486.66,338.07 L487.23,338.09 L487.80,338.10 L488.37,338.09 L488.94,338.07 L489.52,338.03 L490.09,337.98 L490.66,337.91 L491.23,337.82 L491.81,337.72 L492.38,337.61 L492.95,337.48 L493.52,337.34 L494.10,337.18 L494.67,337.00 L495.24,336.81 L495.81,336.61 L496.39,336.39 L496.96,336.16 L497.53,335.92 L498.10,335.66 L498.68,335.38 L499.25,335.10 L499.82,334.80 L500.39,334.48 L500.97,334.16 L501.54,333.82 L502.11,333.47 L502.68,333.11 L503.26,332.73 L503.83,332.35 L504.40,331.95 L504.97,331.54 L505.54,331.12 L506.12,330.69 L506.69,330.25 L507.26,329.80 L507.83,329.34 L508.41,328.87 L508.98,328.39 L509.55,327.90 L510.12,327.40 L510.70,326.90 L511.27,326.38 L511.84,325.86 L512.41,325.33 L512.99,324.79 L513.56,324.25 L514.13,323.70 L514.70,323.14 L515.28,322.58 L515.85,322.01 L516.42,321.44 L516.99,320.86 L517.57,320.27 L518.14,319.68 L518.71,319.09 L519.28,318.49 L519.86,317.88 L520.43,317.28 L521.00,316.67 L521.57,316.05 L522.14,315.44 L522.72,314.82 L523.29,314.20 L523.86,313.57 L524.43,312.95 L525.01,312.32 L525.58,311.69 L526.15,311.06 L526.72,310.42 L527.30,309.79 L527.87,309.15 L528.44,308.52 L529.01,307.88 L529.59,307.25 L530.16,306.61 L530.73,305.98 L531.30,305.34 L531.88,304.71 L532.45,304.07 L533.02,303.44 L533.59,302.80 L534.17,302.17 L534.74,301.54 L535.31,300.91 L535.88,300.28 L536.46,299.66 L537.03,299.03 L537.60,298.41 L538.17,297.79 L538.74,297.17 L539.32,296.56 L539.89,295.94 L540.46,295.33 L541.03,294.72 L541.61,294.11 L542.18,293.51 L542.75,292.91 L543.32,292.31 L543.90,291.71 L544.47,291.12 L545.04,290.53 L545.61,289.94 L546.19,289.36 L546.76,288.78 L547.33,288.20 L547.90,287.63 L548.48,287.06 L549.05,286.49 L549.62,285.93 L550.19,285.37 L550.77,284.81 L551.34,284.26 L551.91,283.71 L552.48,283.17 L553.06,282.63 L553.63,282.09 L554.20,281.55 L554.77,281.02 L555.34,280.50 L555.92,279.97 L556.49,279.45 L557.06,278.94 L557.63,278.43 L558.21,277.92 L558.78,277.42 L559.35,276.92 L559.92,276.42 L560.50,275.93 L561.07,275.44 L561.64,274.95 L562.21,274.47 L562.79,274.00 L563.36,273.52 L563.93,273.05 L564.50,272.59 L565.08,272.13 L565.65,271.67 L566.22,271.21 L566.79,270.76 L567.37,270.32 L567.94,269.87 L568.51,269.44 L569.08,269.00 L569.66,268.57 L570.23,268.14 L570.80,267.72 L571.37,267.30 L571.94,266.88 L572.52,266.47 L573.09,266.06 L573.66,265.65 L574.23,265.25 L574.81,264.85 L575.38,264.45 L575.95,264.06 L576.52,263.67 L577.10,263.29 L577.67,262.91 L578.24,262.53 L578.81,262.15 L579.39,261.78 L579.96,261.42 L580.53,261.05 L581.10,260.69 L581.68,260.33 L582.25,259.98 L582.82,259.63 L583.39,259.28 L583.97,258.93 L584.54,258.59 L585.11,258.25 L585.68,257.92 L586.26,257.58 L586.83,257.25 L587.40,256.93 L587.97,256.60 L588.54,256.28 L589.12,255.96 L589.69,255.65 L590.26,255.34 L590.83,255.03 L591.41,254.72 L591.98,254.42 L592.55,254.12 L593.12,253.82 L593.70,253.53 L594.27,253.23 L594.84,252.95 L595.41,252.66 L595.99,252.37 L596.56,252.09 L597.13,251.81 L597.70,251.54 L598.28,251.26 L598.85,250.99 L599.42,250.72 L599.99,250.46 L600.57,250.19 L601.14,249.93 L601.71,249.67 L602.28,249.42" stroke="#ff0000" stroke-width="2.5" stroke-dasharray="6.0 2.1"/>
</g>
<path d="M396.76,345.50 v-3.00 M396.76,199.40 v3.00 M442.28,345.50 v-3.00 M442.28,199.40 v3.00 M487.80,345.50 v-3.00 M487.80,199.40 v3.00 M533.32,345.50 v-3.00 M533.32,199.40 v3.00 M578.84,345.50 v-3.00 M578.84,199.40 v3.00 M374.00,345.50 v-2.00 M374.00,199.40 v2.00 M385.38,345.50 v-2.00 M385.38,199.40 v2.00 M396.76,345.50 v-2.00 M396.76,199.40 v2.00 M408.14,345.50 v-2.00 M408.14,199.40 v2.00 M419.52,345.50 v-2.00 M419.52,199.40 v2.00 M430.90,345.50 v-2.00 M430.90,199.40 v2.00 M442.28,345.50 v-2.00 M442.28,199.40 v2.00 M453.66,345.50 v-2.00 M453.66,199.40 v2.00 M465.04,345.50 v-2.00 M465.04,199.40 v2.00 M476.42,345.50 v-2.00 M476.42,199.40 v2.00 M487.80,345.50 v-2.00 M487.80,199.40 v2.00 M499.18,345.50 v-2.00 M499.18,199.40 v2.00 M510.56,345.50 v-2.00 M510.56,199.40 v2.00 M521.94,345.50 v-2.00 M521.94,199.40 v2.00 M533.32,345.50 v-2.00 M533.32,199.40 v2.00 M544.70,345.50 v-2.00 M544.70,199.40 v2.00 M556.08,345.50 v-2.00 M556.08,199.40 v2.00 M567.46,345.50 v-2.00 M567.46,199.40 v2.00 M578.84,345.50 v-2.00 M578.84,199.40 v2.00 M590.22,345.50 v-2.00 M590.22,199.40 v2.00 M601.60,345.50 v-2.00 M601.60,199.40 v2.00 M369.10,338.10 h3.00 M606.40,338.10 h-3.00 M369.10,299.65 h3.00 M606.40,299.65 h-3.00 M369.10,261.20 h3.00 M606.40,261.20 h-3.00 M369.10,222.75 h3.00 M606.40,222.75 h-3.00 M369.10,338.10 h2.00 M606.40,338.10 h-2.00 M369.10,330.41 h2.00 M606.40,330.41 h-2.00 M369.10,322.72 h2.00 M606.40,322.72 h-2.00 M369.10,315.03 h2.00 M606.40,315.03 h-2.00 M369.10,307.34 h2.00 M606.40,307.34 h-2.00 M369.10,299.65 h2.00 M606.40,299.65 h-2.00 M369.10,291.96 h2.00 M606.40,291.96 h-2.00 M369.10,284.27 h2.00 M606.40,284.27 h-2.00 M369.10,276.58 h2.00 M606.40,276.58 h-2.00 M369.10,268.89 h2.00 M606.40,268.89 h-2.00 M369.10,261.20 h2.00 M606.40,261.20 h-2.00 M369.10,253.51 h2.00 M606.40,253.51 h-2.00 M369.10,245.82 h2.00 M606.40,245.82 h-2.00 M369.10,238.13 h2.00 M606.40,238.13 h-2.00 M369.10,230.44 h2.00 M606.40,230.44 h-2.00 M369.10,222.75 h2.00 M606.40,222.75 h-2.00 M369.10,215.06 h2.00 M606.40,215.06 h-2.00 M369.10,207.37 h2.00 M606.40,207.37 h-2.00" stroke="#000" stroke-width="1.45" fill="none"/>
<rect x="369.10" y="199.40" width="237.30" height="146.10" fill="none" stroke="#000" stroke-width="2.15"/>
<rect x="385.83" y="358.45" width="10.10" height="2.10" fill="#000"/>
<text x="398.54" y="364.60" font-size="18.3">4</text>
<rect x="431.36" y="358.45" width="10.10" height="2.10" fill="#000"/>
<text x="444.06" y="364.60" font-size="18.3">2</text>
<text x="487.80" y="364.60" text-anchor="middle" font-size="18.3">0</text>
<text x="533.32" y="364.60" text-anchor="middle" font-size="18.3">2</text>
<text x="578.84" y="364.60" text-anchor="middle" font-size="18.3">4</text>
<text x="365.50" y="344.00" text-anchor="end" font-size="18.3">0</text>
<text x="365.50" y="305.55" text-anchor="end" font-size="18.3">5</text>
<text x="365.50" y="267.10" text-anchor="end" font-size="18.3">10</text>
<text x="365.50" y="228.65" text-anchor="end" font-size="18.3">15</text>
<text x="84.4" y="134.3" font-size="20.6">(a)</text>
<text x="386.6" y="136.4" font-size="20.6">(b)</text>
<text x="78.4" y="336.6" font-size="20.6">(c)</text>
<text x="383.0" y="332.7" font-size="20.6">(d)</text>
<text x="246.9" y="132.90" font-size="16.8"><tspan font-style="italic">P</tspan> = 3 W</text>
<text x="544.1" y="134.65" font-size="16.8"><tspan font-style="italic">P</tspan> = 3 W</text>
<text x="232.1" y="335.20" font-size="16.8"><tspan font-style="italic">P</tspan> = 0.3 W</text>
<text x="532.5" y="331.20" font-size="16.8"><tspan font-style="italic">P</tspan> = 0.3 W</text>
<text transform="translate(33.2,76.6) rotate(-90)" text-anchor="middle" font-size="18.4"><tspan font-style="italic">U</tspan> (<tspan font-style="italic">μ</tspan>K)</text>
<text transform="translate(34.7,272.5) rotate(-90)" text-anchor="middle" font-size="18.5"><tspan font-style="italic">U</tspan> (<tspan font-style="italic">μ</tspan>K)</text>
<text x="186.6" y="393" text-anchor="middle" font-size="18.5"><tspan font-style="italic">z</tspan> (<tspan font-style="italic">μ</tspan>m)</text>
<text x="487.3" y="392.8" text-anchor="middle" font-size="18.5"><tspan font-style="italic">y</tspan> (mm)</text>
<clipPath id="ce"><rect x="54.30" y="453.70" width="542.75" height="189.40"/></clipPath>
<g clip-path="url(#ce)" fill="none" stroke-linejoin="round">
<path d="M54.30,621.40 L57.71,621.44 L61.13,621.47 L64.54,621.50 L67.95,621.54 L71.37,621.57 L74.78,621.60 L78.19,621.63 L81.61,621.67 L85.02,621.70 L88.44,621.73 L91.85,621.76 L95.26,621.79 L98.68,621.83 L102.09,621.86 L105.50,621.89 L108.92,621.92 L112.33,621.95 L115.74,621.98 L119.16,622.01 L122.57,622.04 L125.98,622.07 L129.40,622.10 L132.81,622.13 L136.22,622.16 L139.64,622.19 L143.05,622.22 L146.47,622.25 L149.88,622.28 L153.29,622.31 L156.71,622.34 L160.12,622.37 L163.53,622.40 L166.95,622.43 L170.36,622.45 L173.77,622.48 L177.19,622.51 L180.60,622.54 L184.01,622.57 L187.43,622.60 L190.84,622.62 L194.25,622.65 L197.67,622.68 L201.08,622.70 L204.49,622.73 L207.91,622.76 L211.32,622.79 L214.74,622.81 L218.15,622.84 L221.56,622.86 L224.98,622.89 L228.39,622.92 L231.80,622.94 L235.22,622.97 L238.63,622.99 L242.04,623.02 L245.46,623.04 L248.87,623.07 L252.28,623.09 L255.70,623.12 L259.11,623.14 L262.52,623.17 L265.94,623.19 L269.35,623.22 L272.77,623.24 L276.18,623.27 L279.59,623.29 L283.01,623.31 L286.42,623.34 L289.83,623.36 L293.25,623.38 L296.66,623.41 L300.07,623.43 L303.49,623.45 L306.90,623.48 L310.31,623.50 L313.73,623.52 L317.14,623.54 L320.55,623.56 L323.97,623.59 L327.38,623.61 L330.80,623.63 L334.21,623.65 L337.62,623.67 L341.04,623.69 L344.45,623.71 L347.86,623.74 L351.28,623.76 L354.69,623.78 L358.10,623.80 L361.52,623.82 L364.93,623.84 L368.34,623.86 L371.76,623.88 L375.17,623.90 L378.58,623.92 L382.00,623.94 L385.41,623.96 L388.83,623.98 L392.24,623.99 L395.65,624.01 L399.07,624.03 L402.48,624.05 L405.89,624.07 L409.31,624.09 L412.72,624.11 L416.13,624.12 L419.55,624.14 L422.96,624.16 L426.37,624.18 L429.79,624.19 L433.20,624.21 L436.61,624.23 L440.03,624.25 L443.44,624.26 L446.86,624.28 L450.27,624.30 L453.68,624.31 L457.10,624.33 L460.51,624.34 L463.92,624.36 L467.34,624.38 L470.75,624.39 L474.16,624.41 L477.58,624.42 L480.99,624.44 L484.40,624.45 L487.82,624.47 L491.23,624.48 L494.64,624.50 L498.06,624.51 L501.47,624.53 L504.88,624.54 L508.30,624.56 L511.71,624.57 L515.13,624.58 L518.54,624.60 L521.95,624.61 L525.37,624.62 L528.78,624.64 L532.19,624.65 L535.61,624.66 L539.02,624.68 L542.43,624.69 L545.85,624.70 L549.26,624.71 L552.67,624.72 L556.09,624.74 L559.50,624.75 L562.91,624.76 L566.33,624.77 L569.74,624.78 L573.16,624.80 L576.57,624.81 L579.98,624.82 L583.40,624.83 L586.81,624.84 L590.22,624.85 L593.64,624.86 L597.05,624.87" stroke="#ff0000" stroke-width="2.1" stroke-dasharray="5.7 2.4"/>
<path d="M54.30,574.24 L57.71,574.93 L61.13,575.60 L64.54,576.27 L67.95,576.94 L71.37,577.59 L74.78,578.24 L78.19,578.88 L81.61,579.52 L85.02,580.14 L88.44,580.77 L91.85,581.38 L95.26,581.99 L98.68,582.59 L102.09,583.18 L105.50,583.77 L108.92,584.35 L112.33,584.93 L115.74,585.49 L119.16,586.05 L122.57,586.61 L125.98,587.16 L129.40,587.70 L132.81,588.23 L136.22,588.76 L139.64,589.29 L143.05,589.80 L146.47,590.31 L149.88,590.82 L153.29,591.31 L156.71,591.81 L160.12,592.29 L163.53,592.77 L166.95,593.24 L170.36,593.71 L173.77,594.17 L177.19,594.63 L180.60,595.08 L184.01,595.52 L187.43,595.96 L190.84,596.39 L194.25,596.81 L197.67,597.23 L201.08,597.65 L204.49,598.06 L207.91,598.46 L211.32,598.86 L214.74,599.25 L218.15,599.64 L221.56,600.02 L224.98,600.40 L228.39,600.77 L231.80,601.13 L235.22,601.49 L238.63,601.85 L242.04,602.20 L245.46,602.54 L248.87,602.88 L252.28,603.21 L255.70,603.54 L259.11,603.87 L262.52,604.19 L265.94,604.50 L269.35,604.81 L272.77,605.12 L276.18,605.42 L279.59,605.71 L283.01,606.00 L286.42,606.29 L289.83,606.57 L293.25,606.85 L296.66,607.12 L300.07,607.39 L303.49,607.65 L306.90,607.91 L310.31,608.17 L313.73,608.42 L317.14,608.66 L320.55,608.91 L323.97,609.15 L327.38,609.38 L330.80,609.61 L334.21,609.84 L337.62,610.06 L341.04,610.28 L344.45,610.50 L347.86,610.71 L351.28,610.91 L354.69,611.12 L358.10,611.32 L361.52,611.52 L364.93,611.71 L368.34,611.90 L371.76,612.09 L375.17,612.27 L378.58,612.45 L382.00,612.63 L385.41,612.81 L388.83,612.98 L392.24,613.15 L395.65,613.31 L399.07,613.47 L402.48,613.63 L405.89,613.79 L409.31,613.95 L412.72,614.10 L416.13,614.25 L419.55,614.39 L422.96,614.54 L426.37,614.68 L429.79,614.82 L433.20,614.96 L436.61,615.09 L440.03,615.22 L443.44,615.35 L446.86,615.48 L450.27,615.61 L453.68,615.73 L457.10,615.86 L460.51,615.98 L463.92,616.10 L467.34,616.22 L470.75,616.33 L474.16,616.45 L477.58,616.56 L480.99,616.67 L484.40,616.78 L487.82,616.89 L491.23,617.00 L494.64,617.11 L498.06,617.21 L501.47,617.32 L504.88,617.42 L508.30,617.52 L511.71,617.62 L515.13,617.73 L518.54,617.83 L521.95,617.93 L525.37,618.03 L528.78,618.12 L532.19,618.22 L535.61,618.32 L539.02,618.42 L542.43,618.52 L545.85,618.61 L549.26,618.71 L552.67,618.81 L556.09,618.91 L559.50,619.01 L562.91,619.10 L566.33,619.20 L569.74,619.30 L573.16,619.40 L576.57,619.50 L579.98,619.60 L583.40,619.70 L586.81,619.80 L590.22,619.91 L593.64,620.01 L597.05,620.11" stroke="#00ff00" stroke-width="2.2"/>
<path d="M54.30,514.53 L57.71,515.46 L61.13,516.40 L64.54,517.34 L67.95,518.28 L71.37,519.22 L74.78,520.16 L78.19,521.10 L81.61,522.04 L85.02,522.98 L88.44,523.92 L91.85,524.87 L95.26,525.81 L98.68,526.75 L102.09,527.69 L105.50,528.63 L108.92,529.57 L112.33,530.51 L115.74,531.45 L119.16,532.38 L122.57,533.32 L125.98,534.25 L129.40,535.19 L132.81,536.12 L136.22,537.05 L139.64,537.98 L143.05,538.90 L146.47,539.83 L149.88,540.75 L153.29,541.67 L156.71,542.58 L160.12,543.50 L163.53,544.41 L166.95,545.32 L170.36,546.22 L173.77,547.13 L177.19,548.03 L180.60,548.92 L184.01,549.82 L187.43,550.71 L190.84,551.60 L194.25,552.48 L197.67,553.36 L201.08,554.23 L204.49,555.11 L207.91,555.97 L211.32,556.84 L214.74,557.70 L218.15,558.55 L221.56,559.40 L224.98,560.25 L228.39,561.09 L231.80,561.93 L235.22,562.76 L238.63,563.59 L242.04,564.41 L245.46,565.23 L248.87,566.04 L252.28,566.85 L255.70,567.66 L259.11,568.45 L262.52,569.25 L265.94,570.03 L269.35,570.81 L272.77,571.59 L276.18,572.36 L279.59,573.13 L283.01,573.89 L286.42,574.64 L289.83,575.39 L293.25,576.13 L296.66,576.86 L300.07,577.59 L303.49,578.32 L306.90,579.04 L310.31,579.75 L313.73,580.45 L317.14,581.15 L320.55,581.84 L323.97,582.53 L327.38,583.21 L330.80,583.88 L334.21,584.55 L337.62,585.21 L341.04,585.86 L344.45,586.51 L347.86,587.15 L351.28,587.78 L354.69,588.41 L358.10,589.03 L361.52,589.64 L364.93,590.25 L368.34,590.84 L371.76,591.44 L375.17,592.02 L378.58,592.60 L382.00,593.17 L385.41,593.73 L388.83,594.29 L392.24,594.84 L395.65,595.38 L399.07,595.92 L402.48,596.45 L405.89,596.97 L409.31,597.48 L412.72,597.99 L416.13,598.49 L419.55,598.98 L422.96,599.46 L426.37,599.94 L429.79,600.41 L433.20,600.87 L436.61,601.33 L440.03,601.78 L443.44,602.22 L446.86,602.65 L450.27,603.08 L453.68,603.50 L457.10,603.91 L460.51,604.32 L463.92,604.71 L467.34,605.10 L470.75,605.48 L474.16,605.86 L477.58,606.23 L480.99,606.59 L484.40,606.94 L487.82,607.29 L491.23,607.63 L494.64,607.96 L498.06,608.28 L501.47,608.60 L504.88,608.91 L508.30,609.22 L511.71,609.51 L515.13,609.80 L518.54,610.08 L521.95,610.36 L525.37,610.63 L528.78,610.89 L532.19,611.14 L535.61,611.39 L539.02,611.63 L542.43,611.86 L545.85,612.09 L549.26,612.31 L552.67,612.52 L556.09,612.73 L559.50,612.93 L562.91,613.12 L566.33,613.31 L569.74,613.49 L573.16,613.66 L576.57,613.83 L579.98,613.99 L583.40,614.15 L586.81,614.29 L590.22,614.44 L593.64,614.57 L597.05,614.70" stroke="#0000ff" stroke-width="2.1"/>
<path d="M54.30,459.66 L57.71,460.87 L61.13,462.10 L64.54,463.34 L67.95,464.59 L71.37,465.86 L74.78,467.15 L78.19,468.44 L81.61,469.75 L85.02,471.07 L88.44,472.40 L91.85,473.74 L95.26,475.09 L98.68,476.45 L102.09,477.82 L105.50,479.19 L108.92,480.58 L112.33,481.97 L115.74,483.36 L119.16,484.77 L122.57,486.18 L125.98,487.59 L129.40,489.01 L132.81,490.43 L136.22,491.86 L139.64,493.29 L143.05,494.72 L146.47,496.15 L149.88,497.59 L153.29,499.03 L156.71,500.47 L160.12,501.90 L163.53,503.34 L166.95,504.78 L170.36,506.22 L173.77,507.65 L177.19,509.09 L180.60,510.52 L184.01,511.95 L187.43,513.38 L190.84,514.80 L194.25,516.22 L197.67,517.64 L201.08,519.05 L204.49,520.46 L207.91,521.87 L211.32,523.26 L214.74,524.66 L218.15,526.04 L221.56,527.42 L224.98,528.80 L228.39,530.16 L231.80,531.52 L235.22,532.88 L238.63,534.22 L242.04,535.56 L245.46,536.89 L248.87,538.21 L252.28,539.52 L255.70,540.82 L259.11,542.12 L262.52,543.40 L265.94,544.67 L269.35,545.94 L272.77,547.19 L276.18,548.44 L279.59,549.67 L283.01,550.90 L286.42,552.11 L289.83,553.31 L293.25,554.50 L296.66,555.68 L300.07,556.84 L303.49,558.00 L306.90,559.14 L310.31,560.27 L313.73,561.39 L317.14,562.50 L320.55,563.59 L323.97,564.68 L327.38,565.75 L330.80,566.80 L334.21,567.85 L337.62,568.88 L341.04,569.90 L344.45,570.90 L347.86,571.89 L351.28,572.87 L354.69,573.84 L358.10,574.79 L361.52,575.73 L364.93,576.66 L368.34,577.57 L371.76,578.47 L375.17,579.35 L378.58,580.23 L382.00,581.08 L385.41,581.93 L388.83,582.76 L392.24,583.58 L395.65,584.39 L399.07,585.18 L402.48,585.96 L405.89,586.72 L409.31,587.47 L412.72,588.21 L416.13,588.94 L419.55,589.65 L422.96,590.35 L426.37,591.04 L429.79,591.71 L433.20,592.37 L436.61,593.02 L440.03,593.66 L443.44,594.29 L446.86,594.90 L450.27,595.50 L453.68,596.09 L457.10,596.66 L460.51,597.23 L463.92,597.78 L467.34,598.32 L470.75,598.85 L474.16,599.37 L477.58,599.88 L480.99,600.38 L484.40,600.87 L487.82,601.35 L491.23,601.82 L494.64,602.27 L498.06,602.72 L501.47,603.16 L504.88,603.59 L508.30,604.01 L511.71,604.43 L515.13,604.83 L518.54,605.23 L521.95,605.62 L525.37,606.00 L528.78,606.37 L532.19,606.74 L535.61,607.10 L539.02,607.45 L542.43,607.80 L545.85,608.14 L549.26,608.48 L552.67,608.81 L556.09,609.14 L559.50,609.46 L562.91,609.78 L566.33,610.09 L569.74,610.40 L573.16,610.71 L576.57,611.02 L579.98,611.32 L583.40,611.62 L586.81,611.92 L590.22,612.22 L593.64,612.52 L597.05,612.82" stroke="#000" stroke-width="2.1"/>
</g>
<path d="M243.98,643.10 v-4.6 M325.68,643.10 v-4.6 M515.36,643.10 v-4.6 M126.27,453.70 v4.6 M315.95,453.70 v4.6 M397.64,453.70 v4.6 M587.33,453.70 v4.6" stroke="#000" stroke-width="1.8" fill="none"/>
<path d="M597.05,599.28 h-5.5 M54.30,599.28 h5.5 M597.05,573.64 h-3.6 M54.30,573.64 h3.6 M597.05,555.45 h-3.6 M54.30,555.45 h3.6 M597.05,541.35 h-5.5 M54.30,541.35 h5.5 M597.05,529.82 h-3.6 M54.30,529.82 h3.6 M597.05,520.07 h-3.6 M54.30,520.07 h3.6 M597.05,511.63 h-3.6 M54.30,511.63 h3.6 M597.05,504.18 h-3.6 M54.30,504.18 h3.6 M597.05,497.52 h-5.5 M54.30,497.52 h5.5" stroke="#8a8a8a" stroke-width="0.6" fill="none"/>
<rect x="54.30" y="453.70" width="542.75" height="189.40" fill="none" stroke="#000" stroke-width="2.15"/>
<text x="53.40" y="663.6" text-anchor="middle" font-size="19.6">0.1</text>
<text x="243.68" y="663.6" text-anchor="middle" font-size="19.6">0.5</text>
<text x="325.38" y="663.6" text-anchor="middle" font-size="19.6">1</text>
<text x="515.06" y="663.6" text-anchor="middle" font-size="19.6">5</text>
<text x="596.35" y="663.6" text-anchor="middle" font-size="19.6">10</text>
<text x="125.67" y="445.8" text-anchor="middle" font-size="19.6">1</text>
<text x="315.35" y="445.8" text-anchor="middle" font-size="19.6">5</text>
<text x="397.04" y="445.8" text-anchor="middle" font-size="19.6">10</text>
<text x="586.73" y="445.8" text-anchor="middle" font-size="19.6">50</text>
<text x="50.6" y="649.50" text-anchor="end" font-size="19.6">1</text>
<text x="50.6" y="605.68" text-anchor="end" font-size="19.6">2</text>
<text x="50.6" y="547.75" text-anchor="end" font-size="19.6">5</text>
<text x="50.6" y="503.92" text-anchor="end" font-size="19.6">10</text>
<text x="50.6" y="460.10" text-anchor="end" font-size="19.6">20</text>
<text x="325.4" y="415.8" text-anchor="middle" font-size="19.6"><tspan font-style="italic">T</tspan> (<tspan font-style="italic">μ</tspan>K)</text>
<text x="324.7" y="692.4" text-anchor="middle" font-size="19.6"><tspan font-style="italic">P</tspan> (W)</text>
<g transform="translate(19.4,618.6) rotate(-90)">
<text x="-0.4" y="0.0" font-size="19.2">10</text>
<text x="28.2" y="-7.4" font-size="15">6</text>
<text x="35.9" y="0.0" font-size="19.6" font-style="italic">n</text>
<text x="47.3" y="3.4" font-size="14">0</text>
<text x="60.0" y="0.0" font-size="19.6">(</text>
<text x="67.0" y="0.0" font-size="19.6" font-style="italic">c</text>
<text x="74.3" y="0.0" font-size="20.5" font-style="italic">m</text>
<text x="100.3" y="-7.0" font-size="15">3</text>
<text x="108.4" y="0.0" font-size="19.6">)</text>
<text x="115.8" y="0.0" font-size="20.5">/</text>
<text x="123.6" y="0.0" font-size="21" font-style="italic">N</text>
<rect x="19.9" y="-12.3" width="7.9" height="1.7" fill="#000"/>
<rect x="92.0" y="-12.3" width="7.9" height="1.7" fill="#000"/>
</g>
<text x="558.4" y="477.6" font-size="19.5">(e)</text>
<rect x="407.4" y="491.6" width="181.3" height="81.6" fill="#fff" stroke="#6e6e6e" stroke-width="0.9"/>
<path d="M417,503.7 H454.2" stroke="#000" stroke-width="1.9" fill="none"/>
<path d="M417,523.2 H454.2" stroke="#0000ff" stroke-width="1.9" fill="none"/>
<path d="M417,542.2 H454.2" stroke="#00ff00" stroke-width="1.9" fill="none"/>
<path d="M417,560.9 H454.2" stroke="#ff0000" stroke-width="1.9" fill="none" stroke-dasharray="5.6 2.3"/>
<g style="fill:#000;stroke:#000" font-size="15.2">
<text x="465.0" y="508.5" style="fill:inherit;stroke:inherit">HT</text>
<text x="495.2" y="508.5" style="fill:inherit;stroke:inherit">(</text>
<text x="500.6" y="508.5" font-style="italic" style="fill:inherit;stroke:inherit">z</text>
<text x="507.3" y="511.1" font-size="10.5" style="fill:inherit;stroke:inherit">0</text>
<path d="M513.4,503.50 h10 M513.4,506.50 h10" stroke="#000" stroke-width="1.45" fill="none"/>
<text x="528.8" y="508.5" style="fill:inherit;stroke:inherit">0.1</text>
<text x="552.4" y="508.5" style="fill:inherit;stroke:inherit">mm</text>
<text x="578.6" y="508.5" style="fill:inherit;stroke:inherit">)</text>
</g>
<g style="fill:#0000ff;stroke:#0000ff" font-size="15.2">
<text x="465.0" y="528.0" style="fill:inherit;stroke:inherit">HT</text>
<text x="495.2" y="528.0" style="fill:inherit;stroke:inherit">(</text>
<text x="500.6" y="528.0" font-style="italic" style="fill:inherit;stroke:inherit">z</text>
<text x="507.3" y="530.6" font-size="10.5" style="fill:inherit;stroke:inherit">0</text>
<path d="M517.2,523.00 h10 M517.2,526.00 h10" stroke="#0000ff" stroke-width="1.45" fill="none"/>
<text x="532.2" y="528.0" style="fill:inherit;stroke:inherit">1</text>
<text x="544.0" y="528.0" style="fill:inherit;stroke:inherit">mm</text>
<text x="570.2" y="528.0" style="fill:inherit;stroke:inherit">)</text>
</g>
<g style="fill:#00ff00;stroke:#00ff00" font-size="15.2">
<text x="465.0" y="547.0" style="fill:inherit;stroke:inherit">HT</text>
<text x="495.2" y="547.0" style="fill:inherit;stroke:inherit">(</text>
<text x="500.6" y="547.0" font-style="italic" style="fill:inherit;stroke:inherit">z</text>
<text x="507.3" y="549.6" font-size="10.5" style="fill:inherit;stroke:inherit">0</text>
<path d="M517.2,542.00 h10 M517.2,545.00 h10" stroke="#00ff00" stroke-width="1.45" fill="none"/>
<text x="532.6" y="547.0" style="fill:inherit;stroke:inherit">10</text>
<text x="552.4" y="547.0" style="fill:inherit;stroke:inherit">mm</text>
<text x="578.6" y="547.0" style="fill:inherit;stroke:inherit">)</text>
</g>
<g style="fill:#ff0000;stroke:#ff0000" font-size="15.2">
<text x="465.0" y="565.7" style="fill:inherit;stroke:inherit">ODT</text>
</g>
</svg></body></html>
